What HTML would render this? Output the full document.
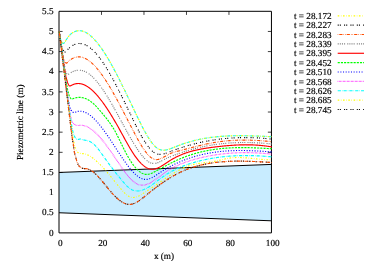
<!DOCTYPE html>
<html><head><meta charset="utf-8"><title>plot</title>
<style>html,body{margin:0;padding:0;background:#fff;}body{width:375px;height:263px;overflow:hidden;position:relative;font-family:"Liberation Serif",serif;}</style></head>
<body>
<svg width="375" height="263" viewBox="0 0 375 263" style="position:absolute;left:0;top:0">
<defs><clipPath id="cp"><rect x="58.0" y="11.3" width="214.45" height="221.6"/></clipPath></defs>
<rect width="375" height="263" fill="#fff"/>
<polygon points="59.00,172.46 271.45,164.41 271.45,220.81 59.00,212.75" fill="#c8ecff"/>
<path d="M59.0,11.3 H271.45 V232.9 H59.0 Z" stroke="#000" stroke-width="1.0" fill="none"/>
<path d="M59.0,172.46 h3.6 M59.0,152.32 h3.6 M271.45,152.32 h-3.6 M59.0,132.17 h3.6 M271.45,132.17 h-3.6 M59.0,112.03 h3.6 M271.45,112.03 h-3.6 M59.0,91.88 h3.6 M271.45,91.88 h-3.6 M59.0,71.74 h3.6 M271.45,71.74 h-3.6 M59.0,51.59 h3.6 M271.45,51.59 h-3.6 M59.0,31.45 h3.6 M271.45,31.45 h-3.6 M101.49,11.3 v3.6 M143.98,11.3 v3.6 M186.47,11.3 v3.6 M228.96,11.3 v3.6" stroke="#000" stroke-width="0.75" fill="none"/>
<path d="M59.00,172.46 L271.45,164.41 M59.00,212.75 L271.45,220.81" stroke="#000" stroke-width="1.0" fill="none"/>
<g clip-path="url(#cp)">
<path d="M59.20,31.58 L59.36,32.89 L59.53,34.14 L59.69,35.30 L59.86,36.37 L60.02,37.30 L60.19,38.09 L60.35,38.73 L60.51,39.32 L60.68,39.85 L60.84,40.34 L61.01,40.78 L61.17,41.17 L61.33,41.50 L61.50,41.77 L61.66,41.99 L61.83,42.21 L61.99,42.42 L62.16,42.62 L62.32,42.81 L62.48,42.98 L62.65,43.12 L62.81,43.24 L62.98,43.34 L63.14,43.40 L63.30,43.43 L63.47,43.41 L63.63,43.34 L63.80,43.23 L63.96,43.08 L64.13,42.89 L64.29,42.69 L64.45,42.47 L64.62,42.25 L64.78,42.03 L64.95,41.82 L65.11,41.60 L65.27,41.37 L65.44,41.11 L65.60,40.85 L65.77,40.57 L65.93,40.29 L66.10,40.01 L66.26,39.74 L66.42,39.47 L66.59,39.21 L66.75,38.97 L66.92,38.73 L67.08,38.49 L67.24,38.25 L67.41,38.02 L67.57,37.79 L67.74,37.56 L67.90,37.33 L68.07,37.11 L68.23,36.89 L68.39,36.67 L68.56,36.46 L68.72,36.26 L68.89,36.05 L69.05,35.85 L69.21,35.66 L69.38,35.46 L69.54,35.27 L69.71,35.09 L69.87,34.91 L70.04,34.74 L70.20,34.57 L70.36,34.42 L70.53,34.28 L70.69,34.14 L70.86,34.00 L71.02,33.87 L71.18,33.75 L71.35,33.62 L71.51,33.50 L71.68,33.38 L71.84,33.26 L72.01,33.14 L72.17,33.03 L72.33,32.92 L72.50,32.81 L72.66,32.71 L72.83,32.60 L72.99,32.50 L73.15,32.41 L73.32,32.31 L73.48,32.22 L73.65,32.14 L73.81,32.05 L73.98,31.97 L74.14,31.89 L74.30,31.81 L74.47,31.73 L74.63,31.66 L74.80,31.59 L74.96,31.53 L75.12,31.46 L75.29,31.40 L75.45,31.34 L75.62,31.29 L75.78,31.23 L75.95,31.18 L76.11,31.13 L76.27,31.09 L76.44,31.04 L76.60,31.00 L76.77,30.96 L76.93,30.93 L77.09,30.89 L77.26,30.86 L77.42,30.83 L77.59,30.81 L77.75,30.79 L77.92,30.77 L78.08,30.75 L78.24,30.73 L78.41,30.71 L78.57,30.70 L78.74,30.70 L78.90,30.70 L79.06,30.70 L79.23,30.70 L79.39,30.70 L79.56,30.70 L79.72,30.70 L79.89,30.70 L80.05,30.71 L80.21,30.72 L80.38,30.74 L80.54,30.76 L80.71,30.78 L80.87,30.80 L81.03,30.82 L81.20,30.85 L81.36,30.88 L81.53,30.91 L81.69,30.94 L81.86,30.98 L82.02,31.02 L82.18,31.05 L82.35,31.10 L82.51,31.14 L82.68,31.19 L82.84,31.24 L83.00,31.29 L83.17,31.34 L83.33,31.39 L83.50,31.45 L83.66,31.51 L83.83,31.57 L83.99,31.64 L84.15,31.70 L84.32,31.77 L84.48,31.84 L84.65,31.91 L84.81,31.98 L84.97,32.06 L85.14,32.14 L85.30,32.22 L85.47,32.30 L85.63,32.38 L85.80,32.47 L85.96,32.56 L86.12,32.65 L86.29,32.74 L86.45,32.83 L86.62,32.93 L86.78,33.02 L86.94,33.12 L87.11,33.22 L87.27,33.33 L87.44,33.43 L87.60,33.54 L87.77,33.65 L87.93,33.76 L88.09,33.87 L88.26,33.99 L88.42,34.10 L88.59,34.22 L88.75,34.34 L88.91,34.46 L89.08,34.59 L89.24,34.71 L89.41,34.84 L89.57,34.97 L89.74,35.10 L89.90,35.23 L90.06,35.36 L90.23,35.50 L90.39,35.64 L90.56,35.78 L90.72,35.92 L90.88,36.06 L91.05,36.20 L91.21,36.35 L91.38,36.50 L91.54,36.65 L91.71,36.80 L91.87,36.95 L92.03,37.10 L92.20,37.26 L92.36,37.42 L92.53,37.58 L92.69,37.74 L92.85,37.90 L93.02,38.06 L93.18,38.23 L93.35,38.40 L93.51,38.56 L93.68,38.74 L93.84,38.91 L94.00,39.08 L94.17,39.25 L94.33,39.43 L94.50,39.61 L94.66,39.78 L94.82,39.96 L94.99,40.14 L95.15,40.33 L95.32,40.51 L95.48,40.69 L95.65,40.88 L95.81,41.07 L95.97,41.26 L96.14,41.45 L96.30,41.64 L96.47,41.84 L96.63,42.04 L96.79,42.23 L96.96,42.43 L97.12,42.63 L97.29,42.83 L97.45,43.03 L97.62,43.24 L97.78,43.44 L97.94,43.65 L98.11,43.86 L98.27,44.06 L98.44,44.27 L98.60,44.49 L98.76,44.70 L98.93,44.91 L99.09,45.13 L99.26,45.35 L99.42,45.56 L99.59,45.78 L99.75,46.00 L99.91,46.23 L100.08,46.45 L100.24,46.67 L100.41,46.90 L100.57,47.12 L100.73,47.35 L100.90,47.58 L101.06,47.81 L101.23,48.04 L101.39,48.28 L101.56,48.51 L101.72,48.75 L102.29,49.57 L102.86,50.41 L103.43,51.26 L104.00,52.12 L104.56,53.00 L105.13,53.89 L105.70,54.80 L106.27,55.71 L106.84,56.64 L107.41,57.58 L107.98,58.53 L108.55,59.49 L109.11,60.46 L109.68,61.45 L110.25,62.44 L110.82,63.44 L111.39,64.46 L111.96,65.48 L112.53,66.51 L113.10,67.55 L113.67,68.61 L114.23,69.66 L114.80,70.73 L115.37,71.81 L115.94,72.89 L116.51,73.98 L117.08,75.08 L117.65,76.19 L118.22,77.30 L118.78,78.42 L119.35,79.54 L119.92,80.67 L120.49,81.81 L121.06,82.95 L121.63,84.09 L122.20,85.25 L122.77,86.40 L123.34,87.56 L123.90,88.73 L124.47,89.89 L125.04,91.07 L125.61,92.24 L126.18,93.42 L126.75,94.60 L127.32,95.78 L127.89,96.97 L128.45,98.15 L129.02,99.34 L129.59,100.53 L130.16,101.72 L130.73,102.92 L131.30,104.11 L131.87,105.30 L132.44,106.50 L133.01,107.69 L133.57,108.88 L134.14,110.07 L134.71,111.27 L135.28,112.46 L135.85,113.64 L136.42,114.83 L136.99,116.02 L137.56,117.20 L138.13,118.37 L138.69,119.54 L139.26,120.71 L139.83,121.86 L140.40,123.01 L140.97,124.15 L141.54,125.28 L142.11,126.40 L142.68,127.50 L143.24,128.59 L143.81,129.66 L144.38,130.72 L144.95,131.76 L145.52,132.79 L146.09,133.79 L146.66,134.78 L147.23,135.74 L147.80,136.69 L148.36,137.60 L148.93,138.50 L149.50,139.37 L150.07,140.21 L150.64,141.03 L151.21,141.81 L151.78,142.58 L152.35,143.31 L152.91,144.00 L153.48,144.66 L154.05,145.30 L154.62,145.90 L155.19,146.45 L155.76,146.98 L156.33,147.47 L156.90,147.91 L157.47,148.32 L158.03,148.69 L158.60,149.02 L159.17,149.30 L159.74,149.53 L160.31,149.75 L160.88,149.91 L161.45,150.02 L162.02,150.10 L162.58,150.16 L163.15,150.20 L163.72,150.20 L164.29,150.16 L164.86,150.10 L165.43,150.04 L166.00,149.95 L166.57,149.83 L167.14,149.69 L167.70,149.54 L168.27,149.38 L168.84,149.21 L169.41,149.02 L169.98,148.84 L170.55,148.64 L171.12,148.44 L171.69,148.23 L172.25,148.02 L172.82,147.80 L173.39,147.58 L173.96,147.36 L174.53,147.13 L175.10,146.91 L175.67,146.68 L176.24,146.46 L176.81,146.23 L177.37,146.01 L177.94,145.78 L178.51,145.56 L179.08,145.35 L179.65,145.13 L180.22,144.92 L180.79,144.71 L181.36,144.51 L181.92,144.30 L182.49,144.10 L183.06,143.91 L183.63,143.71 L184.20,143.52 L184.77,143.33 L185.34,143.15 L185.91,142.97 L186.48,142.79 L187.04,142.61 L187.61,142.44 L188.18,142.27 L188.75,142.10 L189.32,141.93 L189.89,141.77 L190.46,141.61 L191.03,141.45 L191.60,141.29 L192.16,141.14 L192.73,140.99 L193.30,140.84 L193.87,140.70 L194.44,140.56 L195.01,140.42 L195.58,140.28 L196.15,140.14 L196.71,140.01 L197.28,139.88 L197.85,139.75 L198.42,139.63 L198.99,139.50 L199.56,139.38 L200.13,139.26 L200.70,139.15 L201.27,139.04 L201.83,138.92 L202.40,138.81 L202.97,138.71 L203.54,138.60 L204.11,138.50 L204.68,138.40 L205.25,138.30 L205.82,138.21 L206.38,138.11 L206.95,138.02 L207.52,137.93 L208.09,137.84 L208.66,137.76 L209.23,137.68 L209.80,137.59 L210.37,137.51 L210.94,137.44 L211.50,137.36 L212.07,137.29 L212.64,137.22 L213.21,137.15 L213.78,137.08 L214.35,137.01 L214.92,136.95 L215.49,136.89 L216.05,136.83 L216.62,136.77 L217.19,136.71 L217.76,136.66 L218.33,136.60 L218.90,136.55 L219.47,136.50 L220.04,136.45 L220.61,136.41 L221.17,136.36 L221.74,136.32 L222.31,136.28 L222.88,136.24 L223.45,136.20 L224.02,136.16 L224.59,136.13 L225.16,136.09 L225.72,136.06 L226.29,136.03 L226.86,136.00 L227.43,135.97 L228.00,135.95 L228.57,135.92 L229.14,135.90 L229.71,135.87 L230.28,135.85 L230.84,135.83 L231.41,135.82 L231.98,135.80 L232.55,135.78 L233.12,135.77 L233.69,135.75 L234.26,135.74 L234.83,135.73 L235.39,135.72 L235.96,135.71 L236.53,135.71 L237.10,135.70 L237.67,135.69 L238.24,135.69 L238.81,135.69 L239.38,135.69 L239.95,135.68 L240.51,135.69 L241.08,135.69 L241.65,135.69 L242.22,135.69 L242.79,135.69 L243.36,135.70 L243.93,135.71 L244.50,135.71 L245.07,135.72 L245.63,135.73 L246.20,135.74 L246.77,135.75 L247.34,135.76 L247.91,135.77 L248.48,135.78 L249.05,135.80 L249.62,135.81 L250.18,135.82 L250.75,135.84 L251.32,135.85 L251.89,135.87 L252.46,135.89 L253.03,135.91 L253.60,135.92 L254.17,135.94 L254.74,135.96 L255.30,135.98 L255.87,136.00 L256.44,136.02 L257.01,136.04 L257.58,136.07 L258.15,136.09 L258.72,136.11 L259.29,136.13 L259.85,136.16 L260.42,136.18 L260.99,136.21 L261.56,136.23 L262.13,136.25 L262.70,136.28 L263.27,136.31 L263.84,136.33 L264.41,136.36 L264.97,136.38 L265.54,136.41 L266.11,136.44 L266.68,136.46 L267.25,136.49 L267.82,136.52 L268.39,136.54 L268.96,136.57 L269.52,136.60 L270.09,136.62 L270.66,136.65 L271.23,136.68 L271.80,136.70" fill="none" stroke="#00ffff" stroke-width="1.15" stroke-dasharray="3.18,1.06,0.53,1.06"/>
<path d="M59.20,31.58 L59.36,32.89 L59.53,34.14 L59.69,35.30 L59.86,36.37 L60.02,37.30 L60.19,38.09 L60.35,38.73 L60.51,39.32 L60.68,39.85 L60.84,40.34 L61.01,40.78 L61.17,41.17 L61.33,41.50 L61.50,41.77 L61.66,41.99 L61.83,42.21 L61.99,42.42 L62.16,42.62 L62.32,42.81 L62.48,42.98 L62.65,43.12 L62.81,43.24 L62.98,43.34 L63.14,43.40 L63.30,43.43 L63.47,43.41 L63.63,43.34 L63.80,43.23 L63.96,43.08 L64.13,42.89 L64.29,42.69 L64.45,42.47 L64.62,42.25 L64.78,42.03 L64.95,41.82 L65.11,41.60 L65.27,41.37 L65.44,41.11 L65.60,40.85 L65.77,40.57 L65.93,40.29 L66.10,40.01 L66.26,39.74 L66.42,39.47 L66.59,39.21 L66.75,38.97 L66.92,38.73 L67.08,38.49 L67.24,38.25 L67.41,38.02 L67.57,37.79 L67.74,37.56 L67.90,37.33 L68.07,37.11 L68.23,36.89 L68.39,36.67 L68.56,36.46 L68.72,36.26 L68.89,36.05 L69.05,35.85 L69.21,35.66 L69.38,35.46 L69.54,35.27 L69.71,35.09 L69.87,34.91 L70.04,34.74 L70.20,34.57 L70.36,34.42 L70.53,34.28 L70.69,34.14 L70.86,34.00 L71.02,33.87 L71.18,33.75 L71.35,33.62 L71.51,33.50 L71.68,33.38 L71.84,33.26 L72.01,33.14 L72.17,33.03 L72.33,32.92 L72.50,32.81 L72.66,32.71 L72.83,32.60 L72.99,32.50 L73.15,32.41 L73.32,32.31 L73.48,32.22 L73.65,32.14 L73.81,32.05 L73.98,31.97 L74.14,31.89 L74.30,31.81 L74.47,31.73 L74.63,31.66 L74.80,31.59 L74.96,31.53 L75.12,31.46 L75.29,31.40 L75.45,31.34 L75.62,31.29 L75.78,31.23 L75.95,31.18 L76.11,31.13 L76.27,31.09 L76.44,31.04 L76.60,31.00 L76.77,30.96 L76.93,30.93 L77.09,30.89 L77.26,30.86 L77.42,30.83 L77.59,30.81 L77.75,30.79 L77.92,30.77 L78.08,30.75 L78.24,30.73 L78.41,30.71 L78.57,30.70 L78.74,30.70 L78.90,30.70 L79.06,30.70 L79.23,30.70 L79.39,30.70 L79.56,30.70 L79.72,30.70 L79.89,30.70 L80.05,30.71 L80.21,30.72 L80.38,30.74 L80.54,30.76 L80.71,30.78 L80.87,30.80 L81.03,30.82 L81.20,30.85 L81.36,30.88 L81.53,30.91 L81.69,30.94 L81.86,30.98 L82.02,31.02 L82.18,31.05 L82.35,31.10 L82.51,31.14 L82.68,31.19 L82.84,31.24 L83.00,31.29 L83.17,31.34 L83.33,31.39 L83.50,31.45 L83.66,31.51 L83.83,31.57 L83.99,31.64 L84.15,31.70 L84.32,31.77 L84.48,31.84 L84.65,31.91 L84.81,31.98 L84.97,32.06 L85.14,32.14 L85.30,32.22 L85.47,32.30 L85.63,32.38 L85.80,32.47 L85.96,32.56 L86.12,32.65 L86.29,32.74 L86.45,32.83 L86.62,32.93 L86.78,33.02 L86.94,33.12 L87.11,33.22 L87.27,33.33 L87.44,33.43 L87.60,33.54 L87.77,33.65 L87.93,33.76 L88.09,33.87 L88.26,33.99 L88.42,34.10 L88.59,34.22 L88.75,34.34 L88.91,34.46 L89.08,34.59 L89.24,34.71 L89.41,34.84 L89.57,34.97 L89.74,35.10 L89.90,35.23 L90.06,35.36 L90.23,35.50 L90.39,35.64 L90.56,35.78 L90.72,35.92 L90.88,36.06 L91.05,36.20 L91.21,36.35 L91.38,36.50 L91.54,36.65 L91.71,36.80 L91.87,36.95 L92.03,37.10 L92.20,37.26 L92.36,37.42 L92.53,37.58 L92.69,37.74 L92.85,37.90 L93.02,38.06 L93.18,38.23 L93.35,38.40 L93.51,38.56 L93.68,38.74 L93.84,38.91 L94.00,39.08 L94.17,39.25 L94.33,39.43 L94.50,39.61 L94.66,39.78 L94.82,39.96 L94.99,40.14 L95.15,40.33 L95.32,40.51 L95.48,40.69 L95.65,40.88 L95.81,41.07 L95.97,41.26 L96.14,41.45 L96.30,41.64 L96.47,41.84 L96.63,42.04 L96.79,42.23 L96.96,42.43 L97.12,42.63 L97.29,42.83 L97.45,43.03 L97.62,43.24 L97.78,43.44 L97.94,43.65 L98.11,43.86 L98.27,44.06 L98.44,44.27 L98.60,44.49 L98.76,44.70 L98.93,44.91 L99.09,45.13 L99.26,45.35 L99.42,45.56 L99.59,45.78 L99.75,46.00 L99.91,46.23 L100.08,46.45 L100.24,46.67 L100.41,46.90 L100.57,47.12 L100.73,47.35 L100.90,47.58 L101.06,47.81 L101.23,48.04 L101.39,48.28 L101.56,48.51 L101.72,48.75 L102.29,49.57 L102.86,50.41 L103.43,51.26 L104.00,52.12 L104.56,53.00 L105.13,53.89 L105.70,54.80 L106.27,55.71 L106.84,56.64 L107.41,57.58 L107.98,58.53 L108.55,59.49 L109.11,60.46 L109.68,61.45 L110.25,62.44 L110.82,63.44 L111.39,64.46 L111.96,65.48 L112.53,66.51 L113.10,67.55 L113.67,68.61 L114.23,69.66 L114.80,70.73 L115.37,71.81 L115.94,72.89 L116.51,73.98 L117.08,75.08 L117.65,76.19 L118.22,77.30 L118.78,78.42 L119.35,79.54 L119.92,80.67 L120.49,81.81 L121.06,82.95 L121.63,84.09 L122.20,85.25 L122.77,86.40 L123.34,87.56 L123.90,88.73 L124.47,89.89 L125.04,91.07 L125.61,92.24 L126.18,93.42 L126.75,94.60 L127.32,95.78 L127.89,96.97 L128.45,98.15 L129.02,99.34 L129.59,100.53 L130.16,101.72 L130.73,102.92 L131.30,104.11 L131.87,105.30 L132.44,106.50 L133.01,107.69 L133.57,108.88 L134.14,110.07 L134.71,111.27 L135.28,112.46 L135.85,113.64 L136.42,114.83 L136.99,116.02 L137.56,117.20 L138.13,118.37 L138.69,119.54 L139.26,120.71 L139.83,121.86 L140.40,123.01 L140.97,124.15 L141.54,125.28 L142.11,126.40 L142.68,127.50 L143.24,128.59 L143.81,129.66 L144.38,130.72 L144.95,131.76 L145.52,132.79 L146.09,133.79 L146.66,134.78 L147.23,135.74 L147.80,136.69 L148.36,137.60 L148.93,138.50 L149.50,139.37 L150.07,140.21 L150.64,141.03 L151.21,141.81 L151.78,142.58 L152.35,143.31 L152.91,144.00 L153.48,144.66 L154.05,145.30 L154.62,145.90 L155.19,146.45 L155.76,146.98 L156.33,147.47 L156.90,147.91 L157.47,148.32 L158.03,148.69 L158.60,149.02 L159.17,149.30 L159.74,149.53 L160.31,149.75 L160.88,149.91 L161.45,150.02 L162.02,150.10 L162.58,150.16 L163.15,150.20 L163.72,150.20 L164.29,150.16 L164.86,150.10 L165.43,150.04 L166.00,149.95 L166.57,149.83 L167.14,149.69 L167.70,149.54 L168.27,149.38 L168.84,149.21 L169.41,149.02 L169.98,148.84 L170.55,148.64 L171.12,148.44 L171.69,148.23 L172.25,148.02 L172.82,147.80 L173.39,147.58 L173.96,147.36 L174.53,147.13 L175.10,146.91 L175.67,146.68 L176.24,146.46 L176.81,146.23 L177.37,146.01 L177.94,145.78 L178.51,145.56 L179.08,145.35 L179.65,145.13 L180.22,144.92 L180.79,144.71 L181.36,144.51 L181.92,144.30 L182.49,144.10 L183.06,143.91 L183.63,143.71 L184.20,143.52 L184.77,143.33 L185.34,143.15 L185.91,142.97 L186.48,142.79 L187.04,142.61 L187.61,142.44 L188.18,142.27 L188.75,142.10 L189.32,141.93 L189.89,141.77 L190.46,141.61 L191.03,141.45 L191.60,141.29 L192.16,141.14 L192.73,140.99 L193.30,140.84 L193.87,140.70 L194.44,140.56 L195.01,140.42 L195.58,140.28 L196.15,140.14 L196.71,140.01 L197.28,139.88 L197.85,139.75 L198.42,139.63 L198.99,139.50 L199.56,139.38 L200.13,139.26 L200.70,139.15 L201.27,139.04 L201.83,138.92 L202.40,138.81 L202.97,138.71 L203.54,138.60 L204.11,138.50 L204.68,138.40 L205.25,138.30 L205.82,138.21 L206.38,138.11 L206.95,138.02 L207.52,137.93 L208.09,137.84 L208.66,137.76 L209.23,137.68 L209.80,137.59 L210.37,137.51 L210.94,137.44 L211.50,137.36 L212.07,137.29 L212.64,137.22 L213.21,137.15 L213.78,137.08 L214.35,137.01 L214.92,136.95 L215.49,136.89 L216.05,136.83 L216.62,136.77 L217.19,136.71 L217.76,136.66 L218.33,136.60 L218.90,136.55 L219.47,136.50 L220.04,136.45 L220.61,136.41 L221.17,136.36 L221.74,136.32 L222.31,136.28 L222.88,136.24 L223.45,136.20 L224.02,136.16 L224.59,136.13 L225.16,136.09 L225.72,136.06 L226.29,136.03 L226.86,136.00 L227.43,135.97 L228.00,135.95 L228.57,135.92 L229.14,135.90 L229.71,135.87 L230.28,135.85 L230.84,135.83 L231.41,135.82 L231.98,135.80 L232.55,135.78 L233.12,135.77 L233.69,135.75 L234.26,135.74 L234.83,135.73 L235.39,135.72 L235.96,135.71 L236.53,135.71 L237.10,135.70 L237.67,135.69 L238.24,135.69 L238.81,135.69 L239.38,135.69 L239.95,135.68 L240.51,135.69 L241.08,135.69 L241.65,135.69 L242.22,135.69 L242.79,135.69 L243.36,135.70 L243.93,135.71 L244.50,135.71 L245.07,135.72 L245.63,135.73 L246.20,135.74 L246.77,135.75 L247.34,135.76 L247.91,135.77 L248.48,135.78 L249.05,135.80 L249.62,135.81 L250.18,135.82 L250.75,135.84 L251.32,135.85 L251.89,135.87 L252.46,135.89 L253.03,135.91 L253.60,135.92 L254.17,135.94 L254.74,135.96 L255.30,135.98 L255.87,136.00 L256.44,136.02 L257.01,136.04 L257.58,136.07 L258.15,136.09 L258.72,136.11 L259.29,136.13 L259.85,136.16 L260.42,136.18 L260.99,136.21 L261.56,136.23 L262.13,136.25 L262.70,136.28 L263.27,136.31 L263.84,136.33 L264.41,136.36 L264.97,136.38 L265.54,136.41 L266.11,136.44 L266.68,136.46 L267.25,136.49 L267.82,136.52 L268.39,136.54 L268.96,136.57 L269.52,136.60 L270.09,136.62 L270.66,136.65 L271.23,136.68 L271.80,136.70" fill="none" stroke="#ffff00" stroke-width="1.15" stroke-dasharray="1.59,1.59,0.53,1.59"/>
<path d="M59.20,31.58 L59.36,33.00 L59.53,34.37 L59.69,35.67 L59.86,36.92 L60.02,38.11 L60.19,39.23 L60.35,40.29 L60.51,41.28 L60.68,42.21 L60.84,43.07 L61.01,43.89 L61.17,44.66 L61.33,45.37 L61.50,46.01 L61.66,46.58 L61.83,47.05 L61.99,47.49 L62.16,47.88 L62.32,48.24 L62.48,48.58 L62.65,48.90 L62.81,49.20 L62.98,49.48 L63.14,49.76 L63.30,50.04 L63.47,50.32 L63.63,50.59 L63.80,50.86 L63.96,51.10 L64.13,51.32 L64.29,51.50 L64.45,51.64 L64.62,51.74 L64.78,51.83 L64.95,51.92 L65.11,51.99 L65.27,52.04 L65.44,52.06 L65.60,52.05 L65.77,51.99 L65.93,51.88 L66.10,51.74 L66.26,51.56 L66.42,51.35 L66.59,51.13 L66.75,50.89 L66.92,50.64 L67.08,50.40 L67.24,50.16 L67.41,49.93 L67.57,49.72 L67.74,49.54 L67.90,49.36 L68.07,49.19 L68.23,49.03 L68.39,48.86 L68.56,48.70 L68.72,48.54 L68.89,48.38 L69.05,48.22 L69.21,48.07 L69.38,47.92 L69.54,47.77 L69.71,47.63 L69.87,47.49 L70.04,47.35 L70.20,47.21 L70.36,47.08 L70.53,46.95 L70.69,46.82 L70.86,46.69 L71.02,46.57 L71.18,46.45 L71.35,46.33 L71.51,46.21 L71.68,46.10 L71.84,45.99 L72.01,45.88 L72.17,45.78 L72.33,45.67 L72.50,45.57 L72.66,45.47 L72.83,45.38 L72.99,45.28 L73.15,45.19 L73.32,45.10 L73.48,45.02 L73.65,44.93 L73.81,44.85 L73.98,44.77 L74.14,44.70 L74.30,44.63 L74.47,44.55 L74.63,44.48 L74.80,44.42 L74.96,44.35 L75.12,44.29 L75.29,44.23 L75.45,44.18 L75.62,44.12 L75.78,44.07 L75.95,44.02 L76.11,43.97 L76.27,43.93 L76.44,43.88 L76.60,43.84 L76.77,43.80 L76.93,43.77 L77.09,43.73 L77.26,43.70 L77.42,43.68 L77.59,43.65 L77.75,43.62 L77.92,43.60 L78.08,43.58 L78.24,43.56 L78.41,43.55 L78.57,43.54 L78.74,43.53 L78.90,43.52 L79.06,43.51 L79.23,43.50 L79.39,43.50 L79.56,43.50 L79.72,43.51 L79.89,43.51 L80.05,43.52 L80.21,43.53 L80.38,43.54 L80.54,43.55 L80.71,43.56 L80.87,43.58 L81.03,43.60 L81.20,43.62 L81.36,43.65 L81.53,43.67 L81.69,43.70 L81.86,43.73 L82.02,43.76 L82.18,43.80 L82.35,43.84 L82.51,43.87 L82.68,43.91 L82.84,43.96 L83.00,44.00 L83.17,44.05 L83.33,44.10 L83.50,44.15 L83.66,44.20 L83.83,44.26 L83.99,44.31 L84.15,44.37 L84.32,44.43 L84.48,44.50 L84.65,44.56 L84.81,44.63 L84.97,44.70 L85.14,44.77 L85.30,44.84 L85.47,44.92 L85.63,44.99 L85.80,45.07 L85.96,45.15 L86.12,45.23 L86.29,45.32 L86.45,45.40 L86.62,45.49 L86.78,45.58 L86.94,45.67 L87.11,45.77 L87.27,45.86 L87.44,45.96 L87.60,46.06 L87.77,46.16 L87.93,46.27 L88.09,46.37 L88.26,46.48 L88.42,46.59 L88.59,46.70 L88.75,46.81 L88.91,46.92 L89.08,47.04 L89.24,47.16 L89.41,47.28 L89.57,47.40 L89.74,47.52 L89.90,47.65 L90.06,47.77 L90.23,47.90 L90.39,48.03 L90.56,48.16 L90.72,48.30 L90.88,48.43 L91.05,48.57 L91.21,48.71 L91.38,48.85 L91.54,48.99 L91.71,49.13 L91.87,49.28 L92.03,49.42 L92.20,49.57 L92.36,49.72 L92.53,49.87 L92.69,50.03 L92.85,50.18 L93.02,50.34 L93.18,50.50 L93.35,50.66 L93.51,50.82 L93.68,50.99 L93.84,51.15 L94.00,51.32 L94.17,51.49 L94.33,51.66 L94.50,51.83 L94.66,52.00 L94.82,52.17 L94.99,52.35 L95.15,52.52 L95.32,52.70 L95.48,52.88 L95.65,53.06 L95.81,53.25 L95.97,53.43 L96.14,53.62 L96.30,53.81 L96.47,54.00 L96.63,54.19 L96.79,54.38 L96.96,54.57 L97.12,54.77 L97.29,54.96 L97.45,55.16 L97.62,55.36 L97.78,55.56 L97.94,55.76 L98.11,55.97 L98.27,56.17 L98.44,56.38 L98.60,56.59 L98.76,56.80 L98.93,57.01 L99.09,57.22 L99.26,57.43 L99.42,57.65 L99.59,57.86 L99.75,58.08 L99.91,58.30 L100.08,58.52 L100.24,58.74 L100.41,58.96 L100.57,59.19 L100.73,59.41 L100.90,59.64 L101.06,59.87 L101.23,60.09 L101.39,60.32 L101.56,60.56 L101.72,60.79 L102.29,61.60 L102.86,62.43 L103.43,63.28 L104.00,64.14 L104.56,65.01 L105.13,65.90 L105.70,66.79 L106.27,67.71 L106.84,68.63 L107.41,69.57 L107.98,70.51 L108.55,71.47 L109.11,72.45 L109.68,73.43 L110.25,74.42 L110.82,75.42 L111.39,76.44 L111.96,77.46 L112.53,78.49 L113.10,79.54 L113.67,80.59 L114.23,81.65 L114.80,82.71 L115.37,83.79 L115.94,84.88 L116.51,85.97 L117.08,87.07 L117.65,88.17 L118.22,89.28 L118.78,90.40 L119.35,91.53 L119.92,92.66 L120.49,93.79 L121.06,94.93 L121.63,96.08 L122.20,97.23 L122.77,98.38 L123.34,99.54 L123.90,100.70 L124.47,101.87 L125.04,103.03 L125.61,104.21 L126.18,105.38 L126.75,106.55 L127.32,107.73 L127.89,108.91 L128.45,110.09 L129.02,111.27 L129.59,112.45 L130.16,113.64 L130.73,114.82 L131.30,116.00 L131.87,117.18 L132.44,118.36 L133.01,119.54 L133.57,120.71 L134.14,121.87 L134.71,123.04 L135.28,124.19 L135.85,125.34 L136.42,126.48 L136.99,127.61 L137.56,128.73 L138.13,129.83 L138.69,130.93 L139.26,132.01 L139.83,133.08 L140.40,134.13 L140.97,135.17 L141.54,136.19 L142.11,137.19 L142.68,138.18 L143.24,139.14 L143.81,140.09 L144.38,141.00 L144.95,141.90 L145.52,142.78 L146.09,143.63 L146.66,144.45 L147.23,145.26 L147.80,146.03 L148.36,146.77 L148.93,147.48 L149.50,148.17 L150.07,148.83 L150.64,149.45 L151.21,150.03 L151.78,150.59 L152.35,151.12 L152.91,151.59 L153.48,152.04 L154.05,152.46 L154.62,152.83 L155.19,153.16 L155.76,153.45 L156.33,153.71 L156.90,153.92 L157.47,154.08 L158.03,154.23 L158.60,154.34 L159.17,154.38 L159.74,154.38 L160.31,154.37 L160.88,154.36 L161.45,154.35 L162.02,154.28 L162.58,154.17 L163.15,154.04 L163.72,153.91 L164.29,153.75 L164.86,153.57 L165.43,153.39 L166.00,153.20 L166.57,152.99 L167.14,152.77 L167.70,152.56 L168.27,152.34 L168.84,152.11 L169.41,151.89 L169.98,151.67 L170.55,151.45 L171.12,151.23 L171.69,151.01 L172.25,150.80 L172.82,150.59 L173.39,150.38 L173.96,150.17 L174.53,149.96 L175.10,149.76 L175.67,149.56 L176.24,149.36 L176.81,149.16 L177.37,148.96 L177.94,148.77 L178.51,148.58 L179.08,148.39 L179.65,148.20 L180.22,148.01 L180.79,147.83 L181.36,147.64 L181.92,147.46 L182.49,147.28 L183.06,147.10 L183.63,146.92 L184.20,146.75 L184.77,146.57 L185.34,146.40 L185.91,146.23 L186.48,146.06 L187.04,145.90 L187.61,145.73 L188.18,145.57 L188.75,145.41 L189.32,145.25 L189.89,145.09 L190.46,144.93 L191.03,144.78 L191.60,144.63 L192.16,144.48 L192.73,144.33 L193.30,144.18 L193.87,144.03 L194.44,143.89 L195.01,143.75 L195.58,143.60 L196.15,143.46 L196.71,143.33 L197.28,143.19 L197.85,143.06 L198.42,142.92 L198.99,142.79 L199.56,142.66 L200.13,142.54 L200.70,142.41 L201.27,142.29 L201.83,142.16 L202.40,142.04 L202.97,141.92 L203.54,141.80 L204.11,141.69 L204.68,141.57 L205.25,141.46 L205.82,141.35 L206.38,141.24 L206.95,141.13 L207.52,141.03 L208.09,140.92 L208.66,140.82 L209.23,140.72 L209.80,140.62 L210.37,140.52 L210.94,140.42 L211.50,140.33 L212.07,140.24 L212.64,140.15 L213.21,140.06 L213.78,139.97 L214.35,139.88 L214.92,139.80 L215.49,139.71 L216.05,139.63 L216.62,139.55 L217.19,139.47 L217.76,139.40 L218.33,139.32 L218.90,139.25 L219.47,139.17 L220.04,139.10 L220.61,139.04 L221.17,138.97 L221.74,138.90 L222.31,138.84 L222.88,138.78 L223.45,138.72 L224.02,138.66 L224.59,138.60 L225.16,138.54 L225.72,138.49 L226.29,138.44 L226.86,138.38 L227.43,138.33 L228.00,138.29 L228.57,138.24 L229.14,138.19 L229.71,138.15 L230.28,138.11 L230.84,138.07 L231.41,138.03 L231.98,137.99 L232.55,137.96 L233.12,137.92 L233.69,137.89 L234.26,137.86 L234.83,137.83 L235.39,137.80 L235.96,137.78 L236.53,137.75 L237.10,137.73 L237.67,137.71 L238.24,137.69 L238.81,137.67 L239.38,137.65 L239.95,137.64 L240.51,137.62 L241.08,137.61 L241.65,137.60 L242.22,137.59 L242.79,137.58 L243.36,137.57 L243.93,137.57 L244.50,137.57 L245.07,137.57 L245.63,137.57 L246.20,137.57 L246.77,137.57 L247.34,137.57 L247.91,137.58 L248.48,137.59 L249.05,137.59 L249.62,137.61 L250.18,137.62 L250.75,137.63 L251.32,137.65 L251.89,137.66 L252.46,137.68 L253.03,137.70 L253.60,137.72 L254.17,137.74 L254.74,137.77 L255.30,137.79 L255.87,137.82 L256.44,137.85 L257.01,137.88 L257.58,137.91 L258.15,137.94 L258.72,137.97 L259.29,138.01 L259.85,138.05 L260.42,138.09 L260.99,138.13 L261.56,138.17 L262.13,138.21 L262.70,138.25 L263.27,138.30 L263.84,138.35 L264.41,138.40 L264.97,138.45 L265.54,138.50 L266.11,138.55 L266.68,138.61 L267.25,138.66 L267.82,138.72 L268.39,138.78 L268.96,138.84 L269.52,138.90 L270.09,138.96 L270.66,139.03 L271.23,139.10 L271.80,139.16" fill="none" stroke="#000000" stroke-width="1.15" stroke-dasharray="1.06,1.06,1.06,3.18"/>
<path d="M59.20,31.58 L59.36,32.66 L59.53,33.73 L59.69,34.78 L59.86,35.82 L60.02,36.84 L60.19,37.85 L60.35,38.82 L60.51,39.78 L60.68,40.72 L60.84,41.66 L61.01,42.62 L61.17,43.61 L61.33,44.62 L61.50,45.66 L61.66,46.72 L61.83,47.78 L61.99,48.85 L62.16,49.91 L62.32,50.96 L62.48,51.99 L62.65,53.00 L62.81,54.00 L62.98,55.00 L63.14,55.99 L63.30,57.00 L63.47,57.99 L63.63,58.65 L63.80,59.21 L63.96,59.71 L64.13,60.14 L64.29,60.51 L64.45,60.83 L64.62,61.11 L64.78,61.39 L64.95,61.66 L65.11,61.93 L65.27,62.17 L65.44,62.40 L65.60,62.60 L65.77,62.78 L65.93,62.92 L66.10,63.03 L66.26,63.09 L66.42,63.11 L66.59,63.09 L66.75,63.03 L66.92,62.94 L67.08,62.83 L67.24,62.69 L67.41,62.54 L67.57,62.37 L67.74,62.19 L67.90,62.01 L68.07,61.82 L68.23,61.64 L68.39,61.46 L68.56,61.30 L68.72,61.15 L68.89,61.01 L69.05,60.87 L69.21,60.73 L69.38,60.59 L69.54,60.46 L69.71,60.33 L69.87,60.20 L70.04,60.07 L70.20,59.95 L70.36,59.83 L70.53,59.71 L70.69,59.60 L70.86,59.48 L71.02,59.37 L71.18,59.27 L71.35,59.16 L71.51,59.06 L71.68,58.96 L71.84,58.86 L72.01,58.77 L72.17,58.67 L72.33,58.58 L72.50,58.49 L72.66,58.41 L72.83,58.32 L72.99,58.24 L73.15,58.17 L73.32,58.09 L73.48,58.02 L73.65,57.94 L73.81,57.87 L73.98,57.81 L74.14,57.74 L74.30,57.68 L74.47,57.62 L74.63,57.56 L74.80,57.51 L74.96,57.46 L75.12,57.41 L75.29,57.36 L75.45,57.31 L75.62,57.27 L75.78,57.23 L75.95,57.19 L76.11,57.15 L76.27,57.12 L76.44,57.09 L76.60,57.06 L76.77,57.03 L76.93,57.00 L77.09,56.98 L77.26,56.96 L77.42,56.94 L77.59,56.92 L77.75,56.91 L77.92,56.89 L78.08,56.88 L78.24,56.88 L78.41,56.88 L78.57,56.88 L78.74,56.88 L78.90,56.88 L79.06,56.88 L79.23,56.88 L79.39,56.89 L79.56,56.89 L79.72,56.90 L79.89,56.92 L80.05,56.93 L80.21,56.95 L80.38,56.97 L80.54,56.99 L80.71,57.02 L80.87,57.04 L81.03,57.07 L81.20,57.10 L81.36,57.13 L81.53,57.17 L81.69,57.20 L81.86,57.24 L82.02,57.28 L82.18,57.32 L82.35,57.37 L82.51,57.41 L82.68,57.46 L82.84,57.51 L83.00,57.56 L83.17,57.62 L83.33,57.67 L83.50,57.73 L83.66,57.79 L83.83,57.85 L83.99,57.92 L84.15,57.98 L84.32,58.05 L84.48,58.12 L84.65,58.19 L84.81,58.26 L84.97,58.34 L85.14,58.41 L85.30,58.49 L85.47,58.57 L85.63,58.66 L85.80,58.74 L85.96,58.83 L86.12,58.91 L86.29,59.00 L86.45,59.09 L86.62,59.19 L86.78,59.28 L86.94,59.38 L87.11,59.48 L87.27,59.58 L87.44,59.68 L87.60,59.78 L87.77,59.89 L87.93,60.00 L88.09,60.11 L88.26,60.22 L88.42,60.33 L88.59,60.44 L88.75,60.56 L88.91,60.68 L89.08,60.80 L89.24,60.92 L89.41,61.04 L89.57,61.17 L89.74,61.29 L89.90,61.42 L90.06,61.55 L90.23,61.68 L90.39,61.81 L90.56,61.95 L90.72,62.08 L90.88,62.22 L91.05,62.36 L91.21,62.50 L91.38,62.64 L91.54,62.79 L91.71,62.93 L91.87,63.08 L92.03,63.23 L92.20,63.38 L92.36,63.53 L92.53,63.68 L92.69,63.83 L92.85,63.99 L93.02,64.15 L93.18,64.31 L93.35,64.47 L93.51,64.63 L93.68,64.80 L93.84,64.96 L94.00,65.13 L94.17,65.30 L94.33,65.47 L94.50,65.64 L94.66,65.81 L94.82,65.98 L94.99,66.16 L95.15,66.34 L95.32,66.51 L95.48,66.69 L95.65,66.87 L95.81,67.06 L95.97,67.24 L96.14,67.42 L96.30,67.61 L96.47,67.80 L96.63,67.99 L96.79,68.18 L96.96,68.37 L97.12,68.57 L97.29,68.76 L97.45,68.96 L97.62,69.15 L97.78,69.35 L97.94,69.55 L98.11,69.75 L98.27,69.95 L98.44,70.16 L98.60,70.36 L98.76,70.57 L98.93,70.78 L99.09,70.99 L99.26,71.20 L99.42,71.41 L99.59,71.62 L99.75,71.83 L99.91,72.05 L100.08,72.26 L100.24,72.48 L100.41,72.70 L100.57,72.92 L100.73,73.14 L100.90,73.36 L101.06,73.59 L101.23,73.81 L101.39,74.04 L101.56,74.26 L101.72,74.49 L102.29,75.29 L102.86,76.10 L103.43,76.93 L104.00,77.76 L104.56,78.61 L105.13,79.47 L105.70,80.35 L106.27,81.23 L106.84,82.13 L107.41,83.03 L107.98,83.95 L108.55,84.88 L109.11,85.82 L109.68,86.77 L110.25,87.72 L110.82,88.69 L111.39,89.66 L111.96,90.65 L112.53,91.64 L113.10,92.64 L113.67,93.65 L114.23,94.66 L114.80,95.68 L115.37,96.71 L115.94,97.75 L116.51,98.79 L117.08,99.83 L117.65,100.89 L118.22,101.94 L118.78,103.01 L119.35,104.07 L119.92,105.15 L120.49,106.22 L121.06,107.30 L121.63,108.39 L122.20,109.47 L122.77,110.56 L123.34,111.65 L123.90,112.75 L124.47,113.84 L125.04,114.94 L125.61,116.04 L126.18,117.14 L126.75,118.24 L127.32,119.35 L127.89,120.45 L128.45,121.55 L129.02,122.65 L129.59,123.75 L130.16,124.85 L130.73,125.95 L131.30,127.05 L131.87,128.15 L132.44,129.24 L133.01,130.33 L133.57,131.42 L134.14,132.50 L134.71,133.59 L135.28,134.66 L135.85,135.73 L136.42,136.79 L136.99,137.84 L137.56,138.89 L138.13,139.92 L138.69,140.93 L139.26,141.94 L139.83,142.93 L140.40,143.90 L140.97,144.86 L141.54,145.79 L142.11,146.71 L142.68,147.60 L143.24,148.48 L143.81,149.33 L144.38,150.15 L144.95,150.95 L145.52,151.72 L146.09,152.46 L146.66,153.17 L147.23,153.86 L147.80,154.51 L148.36,155.13 L148.93,155.70 L149.50,156.25 L150.07,156.77 L150.64,157.23 L151.21,157.66 L151.78,158.06 L152.35,158.42 L152.91,158.71 L153.48,158.98 L154.05,159.22 L154.62,159.38 L155.19,159.46 L155.76,159.52 L156.33,159.56 L156.90,159.58 L157.47,159.55 L158.03,159.45 L158.60,159.32 L159.17,159.18 L159.74,159.00 L160.31,158.79 L160.88,158.55 L161.45,158.30 L162.02,158.03 L162.58,157.74 L163.15,157.43 L163.72,157.12 L164.29,156.80 L164.86,156.47 L165.43,156.14 L166.00,155.81 L166.57,155.47 L167.14,155.14 L167.70,154.83 L168.27,154.52 L168.84,154.22 L169.41,153.93 L169.98,153.66 L170.55,153.41 L171.12,153.17 L171.69,152.95 L172.25,152.74 L172.82,152.54 L173.39,152.35 L173.96,152.18 L174.53,152.01 L175.10,151.85 L175.67,151.69 L176.24,151.54 L176.81,151.39 L177.37,151.25 L177.94,151.11 L178.51,150.96 L179.08,150.82 L179.65,150.68 L180.22,150.53 L180.79,150.39 L181.36,150.25 L181.92,150.10 L182.49,149.95 L183.06,149.81 L183.63,149.66 L184.20,149.51 L184.77,149.37 L185.34,149.22 L185.91,149.07 L186.48,148.92 L187.04,148.78 L187.61,148.63 L188.18,148.48 L188.75,148.33 L189.32,148.19 L189.89,148.04 L190.46,147.89 L191.03,147.74 L191.60,147.60 L192.16,147.45 L192.73,147.31 L193.30,147.16 L193.87,147.02 L194.44,146.87 L195.01,146.73 L195.58,146.58 L196.15,146.44 L196.71,146.30 L197.28,146.16 L197.85,146.02 L198.42,145.88 L198.99,145.74 L199.56,145.60 L200.13,145.46 L200.70,145.33 L201.27,145.19 L201.83,145.06 L202.40,144.93 L202.97,144.80 L203.54,144.67 L204.11,144.54 L204.68,144.41 L205.25,144.28 L205.82,144.16 L206.38,144.04 L206.95,143.91 L207.52,143.79 L208.09,143.67 L208.66,143.56 L209.23,143.44 L209.80,143.33 L210.37,143.22 L210.94,143.11 L211.50,143.00 L212.07,142.89 L212.64,142.79 L213.21,142.69 L213.78,142.59 L214.35,142.49 L214.92,142.39 L215.49,142.30 L216.05,142.21 L216.62,142.12 L217.19,142.03 L217.76,141.94 L218.33,141.86 L218.90,141.78 L219.47,141.70 L220.04,141.62 L220.61,141.55 L221.17,141.48 L221.74,141.40 L222.31,141.34 L222.88,141.27 L223.45,141.20 L224.02,141.14 L224.59,141.08 L225.16,141.02 L225.72,140.96 L226.29,140.91 L226.86,140.85 L227.43,140.80 L228.00,140.75 L228.57,140.70 L229.14,140.66 L229.71,140.62 L230.28,140.57 L230.84,140.53 L231.41,140.49 L231.98,140.46 L232.55,140.42 L233.12,140.39 L233.69,140.36 L234.26,140.33 L234.83,140.30 L235.39,140.27 L235.96,140.25 L236.53,140.23 L237.10,140.20 L237.67,140.19 L238.24,140.17 L238.81,140.15 L239.38,140.14 L239.95,140.12 L240.51,140.11 L241.08,140.10 L241.65,140.10 L242.22,140.09 L242.79,140.09 L243.36,140.08 L243.93,140.08 L244.50,140.08 L245.07,140.08 L245.63,140.09 L246.20,140.09 L246.77,140.09 L247.34,140.10 L247.91,140.11 L248.48,140.12 L249.05,140.13 L249.62,140.15 L250.18,140.16 L250.75,140.18 L251.32,140.20 L251.89,140.22 L252.46,140.24 L253.03,140.26 L253.60,140.28 L254.17,140.31 L254.74,140.33 L255.30,140.36 L255.87,140.39 L256.44,140.42 L257.01,140.45 L257.58,140.48 L258.15,140.52 L258.72,140.55 L259.29,140.59 L259.85,140.62 L260.42,140.66 L260.99,140.70 L261.56,140.75 L262.13,140.79 L262.70,140.83 L263.27,140.88 L263.84,140.92 L264.41,140.97 L264.97,141.02 L265.54,141.07 L266.11,141.12 L266.68,141.17 L267.25,141.22 L267.82,141.28 L268.39,141.33 L268.96,141.39 L269.52,141.44 L270.09,141.50 L270.66,141.56 L271.23,141.62 L271.80,141.68" fill="none" stroke="#ff4d00" stroke-width="1.15" stroke-dasharray="0.53,1.06,3.18,1.06,0.53,1.06"/>
<path d="M59.20,31.58 L59.36,32.69 L59.53,33.80 L59.69,34.90 L59.86,36.01 L60.02,37.12 L60.19,38.23 L60.35,39.33 L60.51,40.43 L60.68,41.54 L60.84,42.65 L61.01,43.77 L61.17,44.90 L61.33,46.05 L61.50,47.21 L61.66,48.36 L61.83,49.50 L61.99,50.62 L62.16,51.71 L62.32,52.77 L62.48,53.80 L62.65,54.81 L62.81,55.81 L62.98,56.80 L63.14,57.79 L63.30,58.76 L63.47,59.73 L63.63,60.69 L63.80,61.64 L63.96,62.59 L64.13,63.52 L64.29,64.45 L64.45,65.37 L64.62,66.29 L64.78,67.22 L64.95,68.08 L65.11,68.91 L65.27,69.71 L65.44,70.46 L65.60,71.12 L65.77,71.68 L65.93,72.13 L66.10,72.56 L66.26,72.93 L66.42,73.24 L66.59,73.49 L66.75,73.67 L66.92,73.85 L67.08,74.01 L67.24,74.15 L67.41,74.27 L67.57,74.35 L67.74,74.39 L67.90,74.39 L68.07,74.37 L68.23,74.32 L68.39,74.25 L68.56,74.16 L68.72,74.06 L68.89,73.96 L69.05,73.84 L69.21,73.72 L69.38,73.61 L69.54,73.49 L69.71,73.38 L69.87,73.28 L70.04,73.18 L70.20,73.07 L70.36,72.97 L70.53,72.86 L70.69,72.75 L70.86,72.65 L71.02,72.55 L71.18,72.46 L71.35,72.36 L71.51,72.27 L71.68,72.18 L71.84,72.09 L72.01,72.01 L72.17,71.92 L72.33,71.84 L72.50,71.76 L72.66,71.68 L72.83,71.61 L72.99,71.53 L73.15,71.46 L73.32,71.39 L73.48,71.33 L73.65,71.26 L73.81,71.20 L73.98,71.13 L74.14,71.07 L74.30,71.02 L74.47,70.96 L74.63,70.91 L74.80,70.86 L74.96,70.81 L75.12,70.76 L75.29,70.71 L75.45,70.67 L75.62,70.63 L75.78,70.59 L75.95,70.55 L76.11,70.51 L76.27,70.48 L76.44,70.45 L76.60,70.42 L76.77,70.39 L76.93,70.36 L77.09,70.34 L77.26,70.32 L77.42,70.30 L77.59,70.28 L77.75,70.27 L77.92,70.25 L78.08,70.24 L78.24,70.23 L78.41,70.23 L78.57,70.23 L78.74,70.22 L78.90,70.22 L79.06,70.22 L79.23,70.22 L79.39,70.22 L79.56,70.22 L79.72,70.23 L79.89,70.24 L80.05,70.26 L80.21,70.27 L80.38,70.29 L80.54,70.30 L80.71,70.32 L80.87,70.35 L81.03,70.37 L81.20,70.40 L81.36,70.43 L81.53,70.45 L81.69,70.49 L81.86,70.52 L82.02,70.56 L82.18,70.59 L82.35,70.63 L82.51,70.68 L82.68,70.72 L82.84,70.76 L83.00,70.81 L83.17,70.86 L83.33,70.91 L83.50,70.97 L83.66,71.02 L83.83,71.08 L83.99,71.14 L84.15,71.20 L84.32,71.27 L84.48,71.33 L84.65,71.40 L84.81,71.47 L84.97,71.54 L85.14,71.61 L85.30,71.69 L85.47,71.77 L85.63,71.85 L85.80,71.93 L85.96,72.01 L86.12,72.09 L86.29,72.18 L86.45,72.27 L86.62,72.36 L86.78,72.46 L86.94,72.55 L87.11,72.65 L87.27,72.75 L87.44,72.85 L87.60,72.95 L87.77,73.05 L87.93,73.16 L88.09,73.27 L88.26,73.38 L88.42,73.49 L88.59,73.61 L88.75,73.72 L88.91,73.84 L89.08,73.96 L89.24,74.08 L89.41,74.20 L89.57,74.33 L89.74,74.46 L89.90,74.59 L90.06,74.72 L90.23,74.85 L90.39,74.98 L90.56,75.12 L90.72,75.26 L90.88,75.40 L91.05,75.54 L91.21,75.68 L91.38,75.82 L91.54,75.97 L91.71,76.12 L91.87,76.27 L92.03,76.42 L92.20,76.57 L92.36,76.73 L92.53,76.88 L92.69,77.04 L92.85,77.20 L93.02,77.36 L93.18,77.52 L93.35,77.69 L93.51,77.86 L93.68,78.02 L93.84,78.19 L94.00,78.36 L94.17,78.54 L94.33,78.71 L94.50,78.89 L94.66,79.06 L94.82,79.24 L94.99,79.42 L95.15,79.60 L95.32,79.78 L95.48,79.97 L95.65,80.15 L95.81,80.34 L95.97,80.53 L96.14,80.72 L96.30,80.91 L96.47,81.10 L96.63,81.30 L96.79,81.49 L96.96,81.69 L97.12,81.89 L97.29,82.09 L97.45,82.29 L97.62,82.49 L97.78,82.70 L97.94,82.90 L98.11,83.11 L98.27,83.32 L98.44,83.53 L98.60,83.74 L98.76,83.95 L98.93,84.16 L99.09,84.38 L99.26,84.59 L99.42,84.81 L99.59,85.03 L99.75,85.25 L99.91,85.47 L100.08,85.69 L100.24,85.91 L100.41,86.14 L100.57,86.36 L100.73,86.59 L100.90,86.82 L101.06,87.05 L101.23,87.28 L101.39,87.51 L101.56,87.74 L101.72,87.98 L102.29,88.79 L102.86,89.63 L103.43,90.47 L104.00,91.33 L104.56,92.19 L105.13,93.07 L105.70,93.96 L106.27,94.86 L106.84,95.78 L107.41,96.70 L107.98,97.63 L108.55,98.57 L109.11,99.52 L109.68,100.48 L110.25,101.44 L110.82,102.41 L111.39,103.39 L111.96,104.38 L112.53,105.37 L113.10,106.37 L113.67,107.38 L114.23,108.39 L114.80,109.40 L115.37,110.42 L115.94,111.45 L116.51,112.48 L117.08,113.51 L117.65,114.54 L118.22,115.58 L118.78,116.62 L119.35,117.66 L119.92,118.70 L120.49,119.74 L121.06,120.78 L121.63,121.83 L122.20,122.87 L122.77,123.91 L123.34,124.96 L123.90,126.00 L124.47,127.04 L125.04,128.07 L125.61,129.11 L126.18,130.14 L126.75,131.17 L127.32,132.19 L127.89,133.21 L128.45,134.23 L129.02,135.24 L129.59,136.24 L130.16,137.25 L130.73,138.24 L131.30,139.23 L131.87,140.21 L132.44,141.18 L133.01,142.14 L133.57,143.09 L134.14,144.03 L134.71,144.96 L135.28,145.88 L135.85,146.78 L136.42,147.67 L136.99,148.55 L137.56,149.41 L138.13,150.26 L138.69,151.09 L139.26,151.90 L139.83,152.69 L140.40,153.47 L140.97,154.22 L141.54,154.95 L142.11,155.66 L142.68,156.34 L143.24,157.00 L143.81,157.64 L144.38,158.24 L144.95,158.82 L145.52,159.38 L146.09,159.90 L146.66,160.38 L147.23,160.85 L147.80,161.28 L148.36,161.67 L148.93,162.02 L149.50,162.35 L150.07,162.64 L150.64,162.87 L151.21,163.08 L151.78,163.28 L152.35,163.41 L152.91,163.44 L153.48,163.44 L154.05,163.45 L154.62,163.45 L155.19,163.43 L155.76,163.33 L156.33,163.17 L156.90,163.00 L157.47,162.82 L158.03,162.60 L158.60,162.37 L159.17,162.12 L159.74,161.85 L160.31,161.57 L160.88,161.28 L161.45,160.98 L162.02,160.68 L162.58,160.37 L163.15,160.06 L163.72,159.76 L164.29,159.45 L164.86,159.16 L165.43,158.87 L166.00,158.59 L166.57,158.33 L167.14,158.07 L167.70,157.82 L168.27,157.57 L168.84,157.33 L169.41,157.10 L169.98,156.86 L170.55,156.63 L171.12,156.40 L171.69,156.17 L172.25,155.94 L172.82,155.72 L173.39,155.50 L173.96,155.28 L174.53,155.06 L175.10,154.85 L175.67,154.63 L176.24,154.42 L176.81,154.21 L177.37,154.00 L177.94,153.80 L178.51,153.60 L179.08,153.39 L179.65,153.20 L180.22,153.00 L180.79,152.80 L181.36,152.61 L181.92,152.42 L182.49,152.23 L183.06,152.04 L183.63,151.86 L184.20,151.67 L184.77,151.49 L185.34,151.31 L185.91,151.14 L186.48,150.96 L187.04,150.79 L187.61,150.62 L188.18,150.45 L188.75,150.28 L189.32,150.12 L189.89,149.95 L190.46,149.79 L191.03,149.63 L191.60,149.47 L192.16,149.32 L192.73,149.16 L193.30,149.01 L193.87,148.86 L194.44,148.71 L195.01,148.57 L195.58,148.42 L196.15,148.28 L196.71,148.14 L197.28,148.00 L197.85,147.86 L198.42,147.73 L198.99,147.59 L199.56,147.46 L200.13,147.33 L200.70,147.21 L201.27,147.08 L201.83,146.96 L202.40,146.83 L202.97,146.71 L203.54,146.60 L204.11,146.48 L204.68,146.36 L205.25,146.25 L205.82,146.14 L206.38,146.03 L206.95,145.92 L207.52,145.82 L208.09,145.71 L208.66,145.61 L209.23,145.51 L209.80,145.41 L210.37,145.31 L210.94,145.22 L211.50,145.12 L212.07,145.03 L212.64,144.94 L213.21,144.85 L213.78,144.76 L214.35,144.68 L214.92,144.60 L215.49,144.51 L216.05,144.43 L216.62,144.36 L217.19,144.28 L217.76,144.20 L218.33,144.13 L218.90,144.06 L219.47,143.99 L220.04,143.92 L220.61,143.86 L221.17,143.79 L221.74,143.73 L222.31,143.67 L222.88,143.61 L223.45,143.55 L224.02,143.49 L224.59,143.44 L225.16,143.38 L225.72,143.33 L226.29,143.28 L226.86,143.23 L227.43,143.18 L228.00,143.14 L228.57,143.09 L229.14,143.05 L229.71,143.01 L230.28,142.97 L230.84,142.93 L231.41,142.90 L231.98,142.86 L232.55,142.83 L233.12,142.80 L233.69,142.77 L234.26,142.74 L234.83,142.71 L235.39,142.69 L235.96,142.67 L236.53,142.64 L237.10,142.62 L237.67,142.60 L238.24,142.59 L238.81,142.57 L239.38,142.55 L239.95,142.54 L240.51,142.53 L241.08,142.52 L241.65,142.51 L242.22,142.50 L242.79,142.50 L243.36,142.49 L243.93,142.49 L244.50,142.49 L245.07,142.49 L245.63,142.49 L246.20,142.49 L246.77,142.50 L247.34,142.50 L247.91,142.51 L248.48,142.52 L249.05,142.53 L249.62,142.54 L250.18,142.55 L250.75,142.57 L251.32,142.58 L251.89,142.60 L252.46,142.62 L253.03,142.64 L253.60,142.66 L254.17,142.68 L254.74,142.70 L255.30,142.73 L255.87,142.75 L256.44,142.78 L257.01,142.81 L257.58,142.84 L258.15,142.87 L258.72,142.90 L259.29,142.94 L259.85,142.97 L260.42,143.01 L260.99,143.05 L261.56,143.09 L262.13,143.13 L262.70,143.17 L263.27,143.21 L263.84,143.26 L264.41,143.30 L264.97,143.35 L265.54,143.40 L266.11,143.45 L266.68,143.50 L267.25,143.55 L267.82,143.60 L268.39,143.66 L268.96,143.71 L269.52,143.77 L270.09,143.83 L270.66,143.89 L271.23,143.95 L271.80,144.01" fill="none" stroke="#808080" stroke-width="1.15" stroke-dasharray="1.06,1.06,1.06,1.06,1.06,1.06,1.06,2.12"/>
<path d="M59.20,31.58 L59.36,32.69 L59.53,33.80 L59.69,34.90 L59.86,36.01 L60.02,37.12 L60.19,38.22 L60.35,39.30 L60.51,40.37 L60.68,41.46 L60.84,42.59 L61.01,43.78 L61.17,45.06 L61.33,46.42 L61.50,47.81 L61.66,49.21 L61.83,50.58 L61.99,51.87 L62.16,53.11 L62.32,54.32 L62.48,55.50 L62.65,56.66 L62.81,57.79 L62.98,58.89 L63.14,59.97 L63.30,61.03 L63.47,62.09 L63.63,63.14 L63.80,64.17 L63.96,65.19 L64.13,66.21 L64.29,67.21 L64.45,68.21 L64.62,69.20 L64.78,70.18 L64.95,71.15 L65.11,72.13 L65.27,73.14 L65.44,74.15 L65.60,75.10 L65.77,75.94 L65.93,76.66 L66.10,77.32 L66.26,77.93 L66.42,78.51 L66.59,79.08 L66.75,79.65 L66.92,80.23 L67.08,80.83 L67.24,81.42 L67.41,81.99 L67.57,82.49 L67.74,82.92 L67.90,83.29 L68.07,83.65 L68.23,84.01 L68.39,84.36 L68.56,84.70 L68.72,85.01 L68.89,85.28 L69.05,85.53 L69.21,85.73 L69.38,85.88 L69.54,85.97 L69.71,86.00 L69.87,85.99 L70.04,85.97 L70.20,85.93 L70.36,85.87 L70.53,85.81 L70.69,85.74 L70.86,85.66 L71.02,85.57 L71.18,85.49 L71.35,85.40 L71.51,85.31 L71.68,85.23 L71.84,85.15 L72.01,85.07 L72.17,85.00 L72.33,84.92 L72.50,84.84 L72.66,84.76 L72.83,84.68 L72.99,84.61 L73.15,84.54 L73.32,84.47 L73.48,84.41 L73.65,84.35 L73.81,84.29 L73.98,84.23 L74.14,84.18 L74.30,84.12 L74.47,84.07 L74.63,84.02 L74.80,83.98 L74.96,83.93 L75.12,83.89 L75.29,83.85 L75.45,83.82 L75.62,83.78 L75.78,83.75 L75.95,83.72 L76.11,83.69 L76.27,83.67 L76.44,83.64 L76.60,83.62 L76.77,83.60 L76.93,83.58 L77.09,83.57 L77.26,83.55 L77.42,83.55 L77.59,83.54 L77.75,83.53 L77.92,83.53 L78.08,83.52 L78.24,83.52 L78.41,83.52 L78.57,83.53 L78.74,83.53 L78.90,83.54 L79.06,83.55 L79.23,83.56 L79.39,83.58 L79.56,83.59 L79.72,83.61 L79.89,83.63 L80.05,83.65 L80.21,83.68 L80.38,83.70 L80.54,83.73 L80.71,83.76 L80.87,83.79 L81.03,83.83 L81.20,83.86 L81.36,83.90 L81.53,83.94 L81.69,83.98 L81.86,84.02 L82.02,84.07 L82.18,84.12 L82.35,84.17 L82.51,84.22 L82.68,84.27 L82.84,84.32 L83.00,84.38 L83.17,84.44 L83.33,84.50 L83.50,84.56 L83.66,84.62 L83.83,84.69 L83.99,84.76 L84.15,84.83 L84.32,84.90 L84.48,84.97 L84.65,85.05 L84.81,85.12 L84.97,85.20 L85.14,85.28 L85.30,85.36 L85.47,85.45 L85.63,85.53 L85.80,85.62 L85.96,85.71 L86.12,85.80 L86.29,85.89 L86.45,85.98 L86.62,86.08 L86.78,86.17 L86.94,86.27 L87.11,86.37 L87.27,86.47 L87.44,86.58 L87.60,86.68 L87.77,86.79 L87.93,86.90 L88.09,87.01 L88.26,87.12 L88.42,87.23 L88.59,87.35 L88.75,87.46 L88.91,87.58 L89.08,87.70 L89.24,87.82 L89.41,87.95 L89.57,88.07 L89.74,88.20 L89.90,88.32 L90.06,88.45 L90.23,88.58 L90.39,88.71 L90.56,88.85 L90.72,88.98 L90.88,89.12 L91.05,89.25 L91.21,89.39 L91.38,89.53 L91.54,89.68 L91.71,89.82 L91.87,89.96 L92.03,90.11 L92.20,90.26 L92.36,90.41 L92.53,90.56 L92.69,90.71 L92.85,90.86 L93.02,91.02 L93.18,91.17 L93.35,91.33 L93.51,91.49 L93.68,91.65 L93.84,91.81 L94.00,91.97 L94.17,92.14 L94.33,92.30 L94.50,92.47 L94.66,92.64 L94.82,92.81 L94.99,92.97 L95.15,93.15 L95.32,93.32 L95.48,93.49 L95.65,93.67 L95.81,93.84 L95.97,94.02 L96.14,94.20 L96.30,94.38 L96.47,94.56 L96.63,94.75 L96.79,94.93 L96.96,95.11 L97.12,95.30 L97.29,95.49 L97.45,95.68 L97.62,95.87 L97.78,96.06 L97.94,96.25 L98.11,96.44 L98.27,96.64 L98.44,96.83 L98.60,97.03 L98.76,97.23 L98.93,97.43 L99.09,97.63 L99.26,97.83 L99.42,98.03 L99.59,98.23 L99.75,98.44 L99.91,98.64 L100.08,98.85 L100.24,99.06 L100.41,99.27 L100.57,99.48 L100.73,99.69 L100.90,99.90 L101.06,100.12 L101.23,100.33 L101.39,100.54 L101.56,100.76 L101.72,100.98 L102.29,101.74 L102.86,102.51 L103.43,103.30 L104.00,104.09 L104.56,104.90 L105.13,105.72 L105.70,106.55 L106.27,107.39 L106.84,108.24 L107.41,109.11 L107.98,109.98 L108.55,110.86 L109.11,111.75 L109.68,112.65 L110.25,113.56 L110.82,114.47 L111.39,115.40 L111.96,116.33 L112.53,117.27 L113.10,118.22 L113.67,119.18 L114.23,120.14 L114.80,121.11 L115.37,122.09 L115.94,123.08 L116.51,124.07 L117.08,125.06 L117.65,126.07 L118.22,127.07 L118.78,128.09 L119.35,129.10 L119.92,130.13 L120.49,131.15 L121.06,132.18 L121.63,133.22 L122.20,134.26 L122.77,135.29 L123.34,136.33 L123.90,137.36 L124.47,138.40 L125.04,139.43 L125.61,140.46 L126.18,141.48 L126.75,142.50 L127.32,143.51 L127.89,144.51 L128.45,145.50 L129.02,146.49 L129.59,147.46 L130.16,148.42 L130.73,149.37 L131.30,150.31 L131.87,151.23 L132.44,152.13 L133.01,153.02 L133.57,153.89 L134.14,154.75 L134.71,155.58 L135.28,156.39 L135.85,157.19 L136.42,157.96 L136.99,158.71 L137.56,159.43 L138.13,160.14 L138.69,160.82 L139.26,161.48 L139.83,162.11 L140.40,162.72 L140.97,163.31 L141.54,163.87 L142.11,164.40 L142.68,164.91 L143.24,165.40 L143.81,165.85 L144.38,166.28 L144.95,166.68 L145.52,167.06 L146.09,167.41 L146.66,167.72 L147.23,168.01 L147.80,168.28 L148.36,168.50 L148.93,168.70 L149.50,168.88 L150.07,169.02 L150.64,169.11 L151.21,169.16 L151.78,169.20 L152.35,169.23 L152.91,169.23 L153.48,169.18 L154.05,169.09 L154.62,168.99 L155.19,168.87 L155.76,168.72 L156.33,168.53 L156.90,168.33 L157.47,168.12 L158.03,167.88 L158.60,167.62 L159.17,167.35 L159.74,167.06 L160.31,166.75 L160.88,166.44 L161.45,166.11 L162.02,165.77 L162.58,165.42 L163.15,165.06 L163.72,164.69 L164.29,164.32 L164.86,163.95 L165.43,163.57 L166.00,163.19 L166.57,162.81 L167.14,162.42 L167.70,162.04 L168.27,161.67 L168.84,161.30 L169.41,160.93 L169.98,160.57 L170.55,160.22 L171.12,159.87 L171.69,159.53 L172.25,159.20 L172.82,158.87 L173.39,158.56 L173.96,158.24 L174.53,157.94 L175.10,157.64 L175.67,157.35 L176.24,157.06 L176.81,156.78 L177.37,156.50 L177.94,156.23 L178.51,155.97 L179.08,155.71 L179.65,155.46 L180.22,155.21 L180.79,154.97 L181.36,154.73 L181.92,154.50 L182.49,154.27 L183.06,154.05 L183.63,153.83 L184.20,153.62 L184.77,153.41 L185.34,153.20 L185.91,153.00 L186.48,152.81 L187.04,152.62 L187.61,152.43 L188.18,152.25 L188.75,152.07 L189.32,151.89 L189.89,151.72 L190.46,151.56 L191.03,151.39 L191.60,151.23 L192.16,151.08 L192.73,150.93 L193.30,150.78 L193.87,150.63 L194.44,150.49 L195.01,150.35 L195.58,150.22 L196.15,150.09 L196.71,149.96 L197.28,149.83 L197.85,149.71 L198.42,149.59 L198.99,149.47 L199.56,149.36 L200.13,149.24 L200.70,149.14 L201.27,149.03 L201.83,148.92 L202.40,148.82 L202.97,148.72 L203.54,148.62 L204.11,148.53 L204.68,148.43 L205.25,148.34 L205.82,148.25 L206.38,148.16 L206.95,148.08 L207.52,147.99 L208.09,147.91 L208.66,147.83 L209.23,147.75 L209.80,147.67 L210.37,147.59 L210.94,147.51 L211.50,147.44 L212.07,147.37 L212.64,147.29 L213.21,147.22 L213.78,147.15 L214.35,147.08 L214.92,147.01 L215.49,146.94 L216.05,146.87 L216.62,146.80 L217.19,146.73 L217.76,146.67 L218.33,146.60 L218.90,146.54 L219.47,146.47 L220.04,146.41 L220.61,146.35 L221.17,146.29 L221.74,146.23 L222.31,146.17 L222.88,146.11 L223.45,146.05 L224.02,146.00 L224.59,145.94 L225.16,145.89 L225.72,145.83 L226.29,145.78 L226.86,145.73 L227.43,145.68 L228.00,145.63 L228.57,145.58 L229.14,145.54 L229.71,145.49 L230.28,145.45 L230.84,145.40 L231.41,145.36 L231.98,145.32 L232.55,145.28 L233.12,145.25 L233.69,145.21 L234.26,145.18 L234.83,145.14 L235.39,145.11 L235.96,145.08 L236.53,145.05 L237.10,145.02 L237.67,145.00 L238.24,144.97 L238.81,144.95 L239.38,144.93 L239.95,144.91 L240.51,144.89 L241.08,144.87 L241.65,144.86 L242.22,144.84 L242.79,144.83 L243.36,144.82 L243.93,144.81 L244.50,144.81 L245.07,144.80 L245.63,144.80 L246.20,144.80 L246.77,144.80 L247.34,144.80 L247.91,144.81 L248.48,144.81 L249.05,144.82 L249.62,144.83 L250.18,144.84 L250.75,144.85 L251.32,144.87 L251.89,144.89 L252.46,144.91 L253.03,144.93 L253.60,144.95 L254.17,144.98 L254.74,145.01 L255.30,145.04 L255.87,145.07 L256.44,145.11 L257.01,145.14 L257.58,145.18 L258.15,145.22 L258.72,145.27 L259.29,145.31 L259.85,145.36 L260.42,145.41 L260.99,145.46 L261.56,145.52 L262.13,145.58 L262.70,145.64 L263.27,145.70 L263.84,145.76 L264.41,145.83 L264.97,145.90 L265.54,145.97 L266.11,146.05 L266.68,146.13 L267.25,146.21 L267.82,146.29 L268.39,146.37 L268.96,146.46 L269.52,146.55 L270.09,146.64 L270.66,146.74 L271.23,146.84 L271.80,146.94" fill="none" stroke="#ff0000" stroke-width="1.15"/>
<path d="M59.20,31.58 L59.36,32.69 L59.53,33.80 L59.69,34.90 L59.86,36.01 L60.02,37.12 L60.19,38.22 L60.35,39.30 L60.51,40.37 L60.68,41.46 L60.84,42.59 L61.01,43.78 L61.17,45.04 L61.33,46.37 L61.50,47.75 L61.66,49.14 L61.83,50.52 L61.99,51.89 L62.16,53.23 L62.32,54.58 L62.48,55.93 L62.65,57.28 L62.81,58.64 L62.98,60.00 L63.14,61.33 L63.30,62.65 L63.47,63.95 L63.63,65.23 L63.80,66.47 L63.96,67.65 L64.13,68.79 L64.29,69.90 L64.45,70.99 L64.62,72.08 L64.78,73.15 L64.95,74.20 L65.11,75.24 L65.27,76.28 L65.44,77.30 L65.60,78.31 L65.77,79.32 L65.93,80.31 L66.10,81.30 L66.26,82.28 L66.42,83.26 L66.59,84.22 L66.75,85.18 L66.92,86.13 L67.08,87.09 L67.24,88.02 L67.41,88.82 L67.57,89.58 L67.74,90.30 L67.90,90.98 L68.07,91.63 L68.23,92.26 L68.39,92.85 L68.56,93.43 L68.72,94.00 L68.89,94.58 L69.05,95.13 L69.21,95.66 L69.38,96.14 L69.54,96.56 L69.71,96.91 L69.87,97.18 L70.04,97.44 L70.20,97.69 L70.36,97.94 L70.53,98.16 L70.69,98.37 L70.86,98.56 L71.02,98.72 L71.18,98.86 L71.35,98.96 L71.51,99.03 L71.68,99.06 L71.84,99.05 L72.01,99.03 L72.17,99.00 L72.33,98.96 L72.50,98.91 L72.66,98.85 L72.83,98.78 L72.99,98.71 L73.15,98.64 L73.32,98.57 L73.48,98.50 L73.65,98.43 L73.81,98.36 L73.98,98.30 L74.14,98.25 L74.30,98.20 L74.47,98.15 L74.63,98.10 L74.80,98.05 L74.96,98.00 L75.12,97.96 L75.29,97.92 L75.45,97.88 L75.62,97.84 L75.78,97.80 L75.95,97.76 L76.11,97.73 L76.27,97.70 L76.44,97.67 L76.60,97.64 L76.77,97.61 L76.93,97.58 L77.09,97.56 L77.26,97.54 L77.42,97.52 L77.59,97.50 L77.75,97.48 L77.92,97.46 L78.08,97.45 L78.24,97.44 L78.41,97.43 L78.57,97.42 L78.74,97.41 L78.90,97.41 L79.06,97.40 L79.23,97.40 L79.39,97.40 L79.56,97.40 L79.72,97.40 L79.89,97.41 L80.05,97.41 L80.21,97.42 L80.38,97.43 L80.54,97.44 L80.71,97.45 L80.87,97.46 L81.03,97.48 L81.20,97.50 L81.36,97.52 L81.53,97.54 L81.69,97.56 L81.86,97.59 L82.02,97.61 L82.18,97.64 L82.35,97.67 L82.51,97.70 L82.68,97.73 L82.84,97.77 L83.00,97.80 L83.17,97.84 L83.33,97.88 L83.50,97.92 L83.66,97.97 L83.83,98.01 L83.99,98.06 L84.15,98.11 L84.32,98.16 L84.48,98.21 L84.65,98.26 L84.81,98.32 L84.97,98.37 L85.14,98.43 L85.30,98.49 L85.47,98.56 L85.63,98.62 L85.80,98.69 L85.96,98.75 L86.12,98.82 L86.29,98.89 L86.45,98.96 L86.62,99.04 L86.78,99.11 L86.94,99.19 L87.11,99.27 L87.27,99.35 L87.44,99.44 L87.60,99.52 L87.77,99.61 L87.93,99.69 L88.09,99.78 L88.26,99.87 L88.42,99.97 L88.59,100.06 L88.75,100.16 L88.91,100.26 L89.08,100.36 L89.24,100.46 L89.41,100.56 L89.57,100.67 L89.74,100.78 L89.90,100.89 L90.06,101.00 L90.23,101.11 L90.39,101.22 L90.56,101.34 L90.72,101.46 L90.88,101.58 L91.05,101.70 L91.21,101.82 L91.38,101.94 L91.54,102.07 L91.71,102.20 L91.87,102.33 L92.03,102.46 L92.20,102.59 L92.36,102.73 L92.53,102.87 L92.69,103.00 L92.85,103.14 L93.02,103.29 L93.18,103.43 L93.35,103.58 L93.51,103.73 L93.68,103.88 L93.84,104.03 L94.00,104.18 L94.17,104.34 L94.33,104.49 L94.50,104.65 L94.66,104.81 L94.82,104.97 L94.99,105.13 L95.15,105.30 L95.32,105.46 L95.48,105.62 L95.65,105.79 L95.81,105.96 L95.97,106.13 L96.14,106.30 L96.30,106.48 L96.47,106.65 L96.63,106.83 L96.79,107.01 L96.96,107.18 L97.12,107.36 L97.29,107.54 L97.45,107.72 L97.62,107.90 L97.78,108.09 L97.94,108.27 L98.11,108.46 L98.27,108.64 L98.44,108.83 L98.60,109.02 L98.76,109.20 L98.93,109.39 L99.09,109.58 L99.26,109.77 L99.42,109.96 L99.59,110.15 L99.75,110.35 L99.91,110.54 L100.08,110.73 L100.24,110.92 L100.41,111.12 L100.57,111.31 L100.73,111.51 L100.90,111.70 L101.06,111.90 L101.23,112.09 L101.39,112.29 L101.56,112.49 L101.72,112.68 L102.29,113.36 L102.86,114.04 L103.43,114.73 L104.00,115.42 L104.56,116.11 L105.13,116.80 L105.70,117.50 L106.27,118.22 L106.84,118.94 L107.41,119.67 L107.98,120.41 L108.55,121.17 L109.11,121.94 L109.68,122.73 L110.25,123.54 L110.82,124.36 L111.39,125.21 L111.96,126.07 L112.53,126.96 L113.10,127.88 L113.67,128.82 L114.23,129.78 L114.80,130.78 L115.37,131.80 L115.94,132.86 L116.51,133.94 L117.08,135.04 L117.65,136.18 L118.22,137.33 L118.78,138.49 L119.35,139.66 L119.92,140.85 L120.49,142.04 L121.06,143.23 L121.63,144.42 L122.20,145.60 L122.77,146.78 L123.34,147.93 L123.90,149.08 L124.47,150.21 L125.04,151.32 L125.61,152.40 L126.18,153.47 L126.75,154.52 L127.32,155.55 L127.89,156.56 L128.45,157.54 L129.02,158.51 L129.59,159.44 L130.16,160.36 L130.73,161.25 L131.30,162.11 L131.87,162.95 L132.44,163.76 L133.01,164.55 L133.57,165.31 L134.14,166.04 L134.71,166.75 L135.28,167.43 L135.85,168.07 L136.42,168.69 L136.99,169.28 L137.56,169.84 L138.13,170.37 L138.69,170.87 L139.26,171.34 L139.83,171.78 L140.40,172.17 L140.97,172.55 L141.54,172.89 L142.11,173.19 L142.68,173.46 L143.24,173.71 L143.81,173.92 L144.38,174.07 L144.95,174.20 L145.52,174.31 L146.09,174.38 L146.66,174.38 L147.23,174.36 L147.80,174.31 L148.36,174.25 L148.93,174.16 L149.50,174.02 L150.07,173.84 L150.64,173.65 L151.21,173.45 L151.78,173.21 L152.35,172.96 L152.91,172.70 L153.48,172.42 L154.05,172.13 L154.62,171.83 L155.19,171.53 L155.76,171.22 L156.33,170.91 L156.90,170.60 L157.47,170.29 L158.03,169.98 L158.60,169.67 L159.17,169.36 L159.74,169.05 L160.31,168.75 L160.88,168.44 L161.45,168.13 L162.02,167.82 L162.58,167.51 L163.15,167.21 L163.72,166.90 L164.29,166.60 L164.86,166.29 L165.43,165.99 L166.00,165.69 L166.57,165.39 L167.14,165.09 L167.70,164.79 L168.27,164.50 L168.84,164.20 L169.41,163.91 L169.98,163.62 L170.55,163.33 L171.12,163.04 L171.69,162.76 L172.25,162.47 L172.82,162.19 L173.39,161.92 L173.96,161.64 L174.53,161.37 L175.10,161.10 L175.67,160.83 L176.24,160.57 L176.81,160.30 L177.37,160.04 L177.94,159.79 L178.51,159.54 L179.08,159.29 L179.65,159.04 L180.22,158.80 L180.79,158.56 L181.36,158.32 L181.92,158.09 L182.49,157.86 L183.06,157.63 L183.63,157.41 L184.20,157.19 L184.77,156.97 L185.34,156.75 L185.91,156.54 L186.48,156.33 L187.04,156.13 L187.61,155.93 L188.18,155.73 L188.75,155.53 L189.32,155.34 L189.89,155.15 L190.46,154.96 L191.03,154.77 L191.60,154.59 L192.16,154.41 L192.73,154.23 L193.30,154.06 L193.87,153.89 L194.44,153.72 L195.01,153.56 L195.58,153.39 L196.15,153.23 L196.71,153.08 L197.28,152.92 L197.85,152.77 L198.42,152.62 L198.99,152.47 L199.56,152.33 L200.13,152.19 L200.70,152.05 L201.27,151.91 L201.83,151.78 L202.40,151.65 L202.97,151.52 L203.54,151.39 L204.11,151.27 L204.68,151.15 L205.25,151.03 L205.82,150.91 L206.38,150.80 L206.95,150.69 L207.52,150.58 L208.09,150.47 L208.66,150.36 L209.23,150.26 L209.80,150.16 L210.37,150.06 L210.94,149.97 L211.50,149.87 L212.07,149.78 L212.64,149.69 L213.21,149.61 L213.78,149.52 L214.35,149.44 L214.92,149.36 L215.49,149.28 L216.05,149.20 L216.62,149.13 L217.19,149.06 L217.76,148.99 L218.33,148.92 L218.90,148.85 L219.47,148.79 L220.04,148.72 L220.61,148.66 L221.17,148.61 L221.74,148.55 L222.31,148.49 L222.88,148.44 L223.45,148.39 L224.02,148.34 L224.59,148.29 L225.16,148.25 L225.72,148.20 L226.29,148.16 L226.86,148.12 L227.43,148.08 L228.00,148.04 L228.57,148.01 L229.14,147.97 L229.71,147.94 L230.28,147.91 L230.84,147.88 L231.41,147.85 L231.98,147.83 L232.55,147.80 L233.12,147.78 L233.69,147.76 L234.26,147.74 L234.83,147.72 L235.39,147.71 L235.96,147.69 L236.53,147.68 L237.10,147.66 L237.67,147.65 L238.24,147.64 L238.81,147.63 L239.38,147.63 L239.95,147.62 L240.51,147.62 L241.08,147.61 L241.65,147.61 L242.22,147.61 L242.79,147.61 L243.36,147.61 L243.93,147.61 L244.50,147.62 L245.07,147.62 L245.63,147.63 L246.20,147.63 L246.77,147.64 L247.34,147.65 L247.91,147.66 L248.48,147.67 L249.05,147.69 L249.62,147.70 L250.18,147.71 L250.75,147.73 L251.32,147.75 L251.89,147.76 L252.46,147.78 L253.03,147.80 L253.60,147.82 L254.17,147.84 L254.74,147.86 L255.30,147.88 L255.87,147.91 L256.44,147.93 L257.01,147.95 L257.58,147.98 L258.15,148.01 L258.72,148.03 L259.29,148.06 L259.85,148.09 L260.42,148.12 L260.99,148.15 L261.56,148.18 L262.13,148.21 L262.70,148.24 L263.27,148.27 L263.84,148.30 L264.41,148.33 L264.97,148.37 L265.54,148.40 L266.11,148.44 L266.68,148.47 L267.25,148.51 L267.82,148.54 L268.39,148.58 L268.96,148.61 L269.52,148.65 L270.09,148.69 L270.66,148.72 L271.23,148.76 L271.80,148.80" fill="none" stroke="#00ff00" stroke-width="1.15" stroke-dasharray="2.12,1.06"/>
<path d="M59.20,31.58 L59.36,32.69 L59.53,33.80 L59.69,34.90 L59.86,36.01 L60.02,37.12 L60.19,38.22 L60.35,39.30 L60.51,40.37 L60.68,41.46 L60.84,42.59 L61.01,43.78 L61.17,45.04 L61.33,46.37 L61.50,47.75 L61.66,49.14 L61.83,50.52 L61.99,51.89 L62.16,53.23 L62.32,54.58 L62.48,55.93 L62.65,57.28 L62.81,58.63 L62.98,59.98 L63.14,61.33 L63.30,62.67 L63.47,64.02 L63.63,65.37 L63.80,66.72 L63.96,68.07 L64.13,69.42 L64.29,70.76 L64.45,72.11 L64.62,73.48 L64.78,74.84 L64.95,76.18 L65.11,77.48 L65.27,78.75 L65.44,80.00 L65.60,81.22 L65.77,82.43 L65.93,83.62 L66.10,84.79 L66.26,85.95 L66.42,87.10 L66.59,88.25 L66.75,89.38 L66.92,90.50 L67.08,91.62 L67.24,92.73 L67.41,93.83 L67.57,94.92 L67.74,96.01 L67.90,97.10 L68.07,98.21 L68.23,99.32 L68.39,100.38 L68.56,101.34 L68.72,102.24 L68.89,103.10 L69.05,103.92 L69.21,104.68 L69.38,105.38 L69.54,106.01 L69.71,106.60 L69.87,107.15 L70.04,107.66 L70.20,108.14 L70.36,108.59 L70.53,109.03 L70.69,109.44 L70.86,109.82 L71.02,110.15 L71.18,110.43 L71.35,110.70 L71.51,110.95 L71.68,111.19 L71.84,111.41 L72.01,111.60 L72.17,111.75 L72.33,111.88 L72.50,111.98 L72.66,112.07 L72.83,112.15 L72.99,112.23 L73.15,112.30 L73.32,112.35 L73.48,112.38 L73.65,112.39 L73.81,112.39 L73.98,112.38 L74.14,112.37 L74.30,112.35 L74.47,112.33 L74.63,112.31 L74.80,112.29 L74.96,112.26 L75.12,112.23 L75.29,112.20 L75.45,112.16 L75.62,112.11 L75.78,112.06 L75.95,112.00 L76.11,111.93 L76.27,111.86 L76.44,111.79 L76.60,111.72 L76.77,111.66 L76.93,111.59 L77.09,111.54 L77.26,111.48 L77.42,111.44 L77.59,111.41 L77.75,111.37 L77.92,111.34 L78.08,111.32 L78.24,111.29 L78.41,111.27 L78.57,111.25 L78.74,111.24 L78.90,111.22 L79.06,111.21 L79.23,111.20 L79.39,111.19 L79.56,111.18 L79.72,111.18 L79.89,111.19 L80.05,111.19 L80.21,111.19 L80.38,111.20 L80.54,111.20 L80.71,111.21 L80.87,111.22 L81.03,111.24 L81.20,111.26 L81.36,111.28 L81.53,111.30 L81.69,111.32 L81.86,111.35 L82.02,111.38 L82.18,111.41 L82.35,111.44 L82.51,111.48 L82.68,111.52 L82.84,111.55 L83.00,111.59 L83.17,111.64 L83.33,111.68 L83.50,111.73 L83.66,111.78 L83.83,111.83 L83.99,111.89 L84.15,111.94 L84.32,112.00 L84.48,112.06 L84.65,112.13 L84.81,112.19 L84.97,112.26 L85.14,112.32 L85.30,112.39 L85.47,112.47 L85.63,112.54 L85.80,112.62 L85.96,112.69 L86.12,112.77 L86.29,112.85 L86.45,112.94 L86.62,113.02 L86.78,113.11 L86.94,113.20 L87.11,113.29 L87.27,113.39 L87.44,113.48 L87.60,113.58 L87.77,113.68 L87.93,113.78 L88.09,113.88 L88.26,113.98 L88.42,114.09 L88.59,114.19 L88.75,114.30 L88.91,114.41 L89.08,114.53 L89.24,114.64 L89.41,114.76 L89.57,114.88 L89.74,114.99 L89.90,115.12 L90.06,115.24 L90.23,115.36 L90.39,115.49 L90.56,115.62 L90.72,115.75 L90.88,115.88 L91.05,116.01 L91.21,116.14 L91.38,116.28 L91.54,116.42 L91.71,116.56 L91.87,116.70 L92.03,116.84 L92.20,116.98 L92.36,117.13 L92.53,117.27 L92.69,117.42 L92.85,117.57 L93.02,117.72 L93.18,117.87 L93.35,118.03 L93.51,118.19 L93.68,118.34 L93.84,118.50 L94.00,118.66 L94.17,118.82 L94.33,118.98 L94.50,119.15 L94.66,119.31 L94.82,119.48 L94.99,119.65 L95.15,119.81 L95.32,119.98 L95.48,120.16 L95.65,120.33 L95.81,120.50 L95.97,120.68 L96.14,120.86 L96.30,121.03 L96.47,121.21 L96.63,121.39 L96.79,121.58 L96.96,121.76 L97.12,121.94 L97.29,122.13 L97.45,122.32 L97.62,122.50 L97.78,122.69 L97.94,122.88 L98.11,123.07 L98.27,123.27 L98.44,123.46 L98.60,123.66 L98.76,123.85 L98.93,124.05 L99.09,124.25 L99.26,124.45 L99.42,124.65 L99.59,124.85 L99.75,125.05 L99.91,125.25 L100.08,125.46 L100.24,125.66 L100.41,125.87 L100.57,126.08 L100.73,126.28 L100.90,126.49 L101.06,126.70 L101.23,126.92 L101.39,127.13 L101.56,127.34 L101.72,127.55 L102.29,128.30 L102.86,129.06 L103.43,129.83 L104.00,130.61 L104.56,131.39 L105.13,132.19 L105.70,132.99 L106.27,133.80 L106.84,134.62 L107.41,135.45 L107.98,136.28 L108.55,137.11 L109.11,137.96 L109.68,138.81 L110.25,139.66 L110.82,140.51 L111.39,141.37 L111.96,142.24 L112.53,143.10 L113.10,143.97 L113.67,144.84 L114.23,145.72 L114.80,146.59 L115.37,147.46 L115.94,148.34 L116.51,149.21 L117.08,150.08 L117.65,150.96 L118.22,151.83 L118.78,152.69 L119.35,153.55 L119.92,154.41 L120.49,155.27 L121.06,156.12 L121.63,156.97 L122.20,157.81 L122.77,158.64 L123.34,159.46 L123.90,160.28 L124.47,161.09 L125.04,161.90 L125.61,162.69 L126.18,163.47 L126.75,164.24 L127.32,165.00 L127.89,165.75 L128.45,166.49 L129.02,167.22 L129.59,167.93 L130.16,168.63 L130.73,169.31 L131.30,169.98 L131.87,170.63 L132.44,171.27 L133.01,171.89 L133.57,172.49 L134.14,173.08 L134.71,173.64 L135.28,174.19 L135.85,174.71 L136.42,175.21 L136.99,175.68 L137.56,176.14 L138.13,176.56 L138.69,176.96 L139.26,177.34 L139.83,177.69 L140.40,178.00 L140.97,178.29 L141.54,178.56 L142.11,178.77 L142.68,178.97 L143.24,179.15 L143.81,179.28 L144.38,179.34 L144.95,179.36 L145.52,179.38 L146.09,179.39 L146.66,179.38 L147.23,179.31 L147.80,179.19 L148.36,179.05 L148.93,178.90 L149.50,178.71 L150.07,178.50 L150.64,178.27 L151.21,178.02 L151.78,177.75 L152.35,177.46 L152.91,177.15 L153.48,176.84 L154.05,176.50 L154.62,176.16 L155.19,175.81 L155.76,175.44 L156.33,175.07 L156.90,174.70 L157.47,174.32 L158.03,173.94 L158.60,173.55 L159.17,173.17 L159.74,172.79 L160.31,172.41 L160.88,172.04 L161.45,171.67 L162.02,171.30 L162.58,170.94 L163.15,170.58 L163.72,170.23 L164.29,169.88 L164.86,169.54 L165.43,169.20 L166.00,168.87 L166.57,168.53 L167.14,168.21 L167.70,167.88 L168.27,167.56 L168.84,167.25 L169.41,166.94 L169.98,166.63 L170.55,166.33 L171.12,166.03 L171.69,165.73 L172.25,165.44 L172.82,165.15 L173.39,164.86 L173.96,164.58 L174.53,164.30 L175.10,164.03 L175.67,163.76 L176.24,163.49 L176.81,163.22 L177.37,162.96 L177.94,162.71 L178.51,162.45 L179.08,162.20 L179.65,161.95 L180.22,161.71 L180.79,161.47 L181.36,161.23 L181.92,160.99 L182.49,160.76 L183.06,160.53 L183.63,160.31 L184.20,160.08 L184.77,159.86 L185.34,159.65 L185.91,159.43 L186.48,159.22 L187.04,159.02 L187.61,158.81 L188.18,158.61 L188.75,158.41 L189.32,158.22 L189.89,158.03 L190.46,157.84 L191.03,157.65 L191.60,157.47 L192.16,157.29 L192.73,157.11 L193.30,156.93 L193.87,156.76 L194.44,156.59 L195.01,156.42 L195.58,156.26 L196.15,156.10 L196.71,155.94 L197.28,155.78 L197.85,155.63 L198.42,155.48 L198.99,155.33 L199.56,155.19 L200.13,155.04 L200.70,154.90 L201.27,154.77 L201.83,154.63 L202.40,154.50 L202.97,154.37 L203.54,154.24 L204.11,154.12 L204.68,154.00 L205.25,153.88 L205.82,153.76 L206.38,153.64 L206.95,153.53 L207.52,153.42 L208.09,153.31 L208.66,153.21 L209.23,153.10 L209.80,153.00 L210.37,152.90 L210.94,152.81 L211.50,152.71 L212.07,152.62 L212.64,152.53 L213.21,152.45 L213.78,152.36 L214.35,152.28 L214.92,152.20 L215.49,152.12 L216.05,152.04 L216.62,151.97 L217.19,151.89 L217.76,151.82 L218.33,151.76 L218.90,151.69 L219.47,151.63 L220.04,151.56 L220.61,151.50 L221.17,151.44 L221.74,151.39 L222.31,151.33 L222.88,151.28 L223.45,151.23 L224.02,151.18 L224.59,151.13 L225.16,151.09 L225.72,151.05 L226.29,151.01 L226.86,150.97 L227.43,150.93 L228.00,150.89 L228.57,150.86 L229.14,150.82 L229.71,150.79 L230.28,150.76 L230.84,150.74 L231.41,150.71 L231.98,150.69 L232.55,150.66 L233.12,150.64 L233.69,150.62 L234.26,150.60 L234.83,150.59 L235.39,150.57 L235.96,150.56 L236.53,150.55 L237.10,150.54 L237.67,150.53 L238.24,150.52 L238.81,150.51 L239.38,150.51 L239.95,150.51 L240.51,150.50 L241.08,150.50 L241.65,150.50 L242.22,150.50 L242.79,150.51 L243.36,150.51 L243.93,150.52 L244.50,150.52 L245.07,150.53 L245.63,150.54 L246.20,150.55 L246.77,150.56 L247.34,150.58 L247.91,150.59 L248.48,150.61 L249.05,150.62 L249.62,150.64 L250.18,150.66 L250.75,150.68 L251.32,150.70 L251.89,150.72 L252.46,150.74 L253.03,150.76 L253.60,150.79 L254.17,150.81 L254.74,150.84 L255.30,150.87 L255.87,150.89 L256.44,150.92 L257.01,150.95 L257.58,150.98 L258.15,151.01 L258.72,151.05 L259.29,151.08 L259.85,151.11 L260.42,151.15 L260.99,151.18 L261.56,151.22 L262.13,151.25 L262.70,151.29 L263.27,151.33 L263.84,151.37 L264.41,151.41 L264.97,151.45 L265.54,151.49 L266.11,151.53 L266.68,151.57 L267.25,151.61 L267.82,151.65 L268.39,151.70 L268.96,151.74 L269.52,151.78 L270.09,151.83 L270.66,151.87 L271.23,151.92 L271.80,151.96" fill="none" stroke="#0000ff" stroke-width="1.15" stroke-dasharray="1.06,1.59"/>
<path d="M59.20,31.58 L59.36,32.69 L59.53,33.80 L59.69,34.90 L59.86,36.01 L60.02,37.12 L60.19,38.22 L60.35,39.30 L60.51,40.37 L60.68,41.46 L60.84,42.59 L61.01,43.78 L61.17,45.04 L61.33,46.37 L61.50,47.75 L61.66,49.14 L61.83,50.52 L61.99,51.89 L62.16,53.23 L62.32,54.58 L62.48,55.93 L62.65,57.28 L62.81,58.63 L62.98,59.98 L63.14,61.33 L63.30,62.67 L63.47,64.02 L63.63,65.37 L63.80,66.72 L63.96,68.07 L64.13,69.42 L64.29,70.76 L64.45,72.11 L64.62,73.46 L64.78,74.81 L64.95,76.16 L65.11,77.51 L65.27,78.86 L65.44,80.22 L65.60,81.56 L65.77,82.88 L65.93,84.19 L66.10,85.49 L66.26,86.76 L66.42,87.99 L66.59,89.19 L66.75,90.37 L66.92,91.54 L67.08,92.71 L67.24,93.86 L67.41,95.00 L67.57,96.13 L67.74,97.26 L67.90,98.38 L68.07,99.49 L68.23,100.59 L68.39,101.68 L68.56,102.77 L68.72,103.86 L68.89,104.93 L69.05,106.00 L69.21,107.07 L69.38,108.14 L69.54,109.26 L69.71,110.43 L69.87,111.59 L70.04,112.73 L70.20,113.81 L70.36,114.79 L70.53,115.66 L70.69,116.50 L70.86,117.30 L71.02,118.06 L71.18,118.75 L71.35,119.36 L71.51,119.89 L71.68,120.35 L71.84,120.77 L72.01,121.18 L72.17,121.55 L72.33,121.90 L72.50,122.21 L72.66,122.51 L72.83,122.77 L72.99,123.01 L73.15,123.22 L73.32,123.42 L73.48,123.61 L73.65,123.79 L73.81,123.96 L73.98,124.12 L74.14,124.27 L74.30,124.40 L74.47,124.52 L74.63,124.62 L74.80,124.71 L74.96,124.77 L75.12,124.83 L75.29,124.89 L75.45,124.94 L75.62,124.99 L75.78,125.04 L75.95,125.09 L76.11,125.14 L76.27,125.18 L76.44,125.22 L76.60,125.26 L76.77,125.29 L76.93,125.33 L77.09,125.36 L77.26,125.38 L77.42,125.41 L77.59,125.42 L77.75,125.44 L77.92,125.45 L78.08,125.46 L78.24,125.47 L78.41,125.46 L78.57,125.45 L78.74,125.42 L78.90,125.39 L79.06,125.36 L79.23,125.33 L79.39,125.31 L79.56,125.29 L79.72,125.28 L79.89,125.26 L80.05,125.25 L80.21,125.24 L80.38,125.24 L80.54,125.24 L80.71,125.24 L80.87,125.24 L81.03,125.24 L81.20,125.25 L81.36,125.25 L81.53,125.26 L81.69,125.27 L81.86,125.28 L82.02,125.30 L82.18,125.32 L82.35,125.34 L82.51,125.36 L82.68,125.38 L82.84,125.40 L83.00,125.43 L83.17,125.46 L83.33,125.49 L83.50,125.53 L83.66,125.56 L83.83,125.60 L83.99,125.64 L84.15,125.68 L84.32,125.72 L84.48,125.77 L84.65,125.82 L84.81,125.86 L84.97,125.91 L85.14,125.97 L85.30,126.02 L85.47,126.08 L85.63,126.14 L85.80,126.20 L85.96,126.26 L86.12,126.32 L86.29,126.39 L86.45,126.46 L86.62,126.53 L86.78,126.60 L86.94,126.67 L87.11,126.74 L87.27,126.82 L87.44,126.90 L87.60,126.98 L87.77,127.06 L87.93,127.14 L88.09,127.23 L88.26,127.31 L88.42,127.40 L88.59,127.49 L88.75,127.59 L88.91,127.68 L89.08,127.77 L89.24,127.87 L89.41,127.97 L89.57,128.07 L89.74,128.17 L89.90,128.27 L90.06,128.38 L90.23,128.49 L90.39,128.59 L90.56,128.70 L90.72,128.82 L90.88,128.93 L91.05,129.04 L91.21,129.16 L91.38,129.28 L91.54,129.39 L91.71,129.52 L91.87,129.64 L92.03,129.76 L92.20,129.89 L92.36,130.01 L92.53,130.14 L92.69,130.27 L92.85,130.40 L93.02,130.53 L93.18,130.67 L93.35,130.80 L93.51,130.94 L93.68,131.08 L93.84,131.22 L94.00,131.36 L94.17,131.50 L94.33,131.65 L94.50,131.79 L94.66,131.94 L94.82,132.09 L94.99,132.23 L95.15,132.38 L95.32,132.53 L95.48,132.69 L95.65,132.84 L95.81,133.00 L95.97,133.15 L96.14,133.31 L96.30,133.47 L96.47,133.63 L96.63,133.80 L96.79,133.96 L96.96,134.12 L97.12,134.29 L97.29,134.46 L97.45,134.62 L97.62,134.79 L97.78,134.96 L97.94,135.13 L98.11,135.31 L98.27,135.48 L98.44,135.66 L98.60,135.83 L98.76,136.01 L98.93,136.19 L99.09,136.37 L99.26,136.55 L99.42,136.73 L99.59,136.91 L99.75,137.10 L99.91,137.28 L100.08,137.47 L100.24,137.66 L100.41,137.84 L100.57,138.03 L100.73,138.22 L100.90,138.41 L101.06,138.61 L101.23,138.80 L101.39,138.99 L101.56,139.19 L101.72,139.39 L102.29,140.07 L102.86,140.77 L103.43,141.48 L104.00,142.20 L104.56,142.93 L105.13,143.67 L105.70,144.41 L106.27,145.17 L106.84,145.93 L107.41,146.71 L107.98,147.49 L108.55,148.28 L109.11,149.07 L109.68,149.87 L110.25,150.68 L110.82,151.49 L111.39,152.31 L111.96,153.14 L112.53,153.97 L113.10,154.80 L113.67,155.64 L114.23,156.48 L114.80,157.32 L115.37,158.17 L115.94,159.02 L116.51,159.87 L117.08,160.72 L117.65,161.57 L118.22,162.42 L118.78,163.26 L119.35,164.11 L119.92,164.95 L120.49,165.79 L121.06,166.62 L121.63,167.44 L122.20,168.26 L122.77,169.07 L123.34,169.87 L123.90,170.66 L124.47,171.44 L125.04,172.21 L125.61,172.96 L126.18,173.70 L126.75,174.43 L127.32,175.14 L127.89,175.84 L128.45,176.52 L129.02,177.18 L129.59,177.82 L130.16,178.44 L130.73,179.04 L131.30,179.61 L131.87,180.16 L132.44,180.70 L133.01,181.20 L133.57,181.68 L134.14,182.12 L134.71,182.55 L135.28,182.94 L135.85,183.30 L136.42,183.63 L136.99,183.93 L137.56,184.20 L138.13,184.43 L138.69,184.64 L139.26,184.82 L139.83,184.96 L140.40,185.05 L140.97,185.13 L141.54,185.19 L142.11,185.21 L142.68,185.19 L143.24,185.15 L143.81,185.08 L144.38,185.01 L144.95,184.90 L145.52,184.75 L146.09,184.58 L146.66,184.41 L147.23,184.20 L147.80,183.97 L148.36,183.73 L148.93,183.47 L149.50,183.19 L150.07,182.89 L150.64,182.58 L151.21,182.26 L151.78,181.92 L152.35,181.57 L152.91,181.22 L153.48,180.85 L154.05,180.47 L154.62,180.08 L155.19,179.69 L155.76,179.29 L156.33,178.88 L156.90,178.47 L157.47,178.05 L158.03,177.63 L158.60,177.21 L159.17,176.79 L159.74,176.36 L160.31,175.94 L160.88,175.51 L161.45,175.09 L162.02,174.67 L162.58,174.25 L163.15,173.83 L163.72,173.42 L164.29,173.01 L164.86,172.61 L165.43,172.22 L166.00,171.84 L166.57,171.46 L167.14,171.08 L167.70,170.72 L168.27,170.36 L168.84,170.01 L169.41,169.67 L169.98,169.33 L170.55,169.00 L171.12,168.67 L171.69,168.35 L172.25,168.04 L172.82,167.73 L173.39,167.43 L173.96,167.14 L174.53,166.85 L175.10,166.56 L175.67,166.29 L176.24,166.01 L176.81,165.74 L177.37,165.48 L177.94,165.22 L178.51,164.97 L179.08,164.72 L179.65,164.48 L180.22,164.24 L180.79,164.00 L181.36,163.77 L181.92,163.55 L182.49,163.33 L183.06,163.11 L183.63,162.89 L184.20,162.68 L184.77,162.48 L185.34,162.27 L185.91,162.07 L186.48,161.88 L187.04,161.68 L187.61,161.49 L188.18,161.30 L188.75,161.12 L189.32,160.94 L189.89,160.76 L190.46,160.58 L191.03,160.41 L191.60,160.24 L192.16,160.07 L192.73,159.90 L193.30,159.73 L193.87,159.57 L194.44,159.41 L195.01,159.25 L195.58,159.09 L196.15,158.94 L196.71,158.78 L197.28,158.63 L197.85,158.49 L198.42,158.34 L198.99,158.19 L199.56,158.05 L200.13,157.91 L200.70,157.77 L201.27,157.64 L201.83,157.50 L202.40,157.37 L202.97,157.24 L203.54,157.11 L204.11,156.98 L204.68,156.86 L205.25,156.74 L205.82,156.62 L206.38,156.50 L206.95,156.38 L207.52,156.27 L208.09,156.16 L208.66,156.04 L209.23,155.94 L209.80,155.83 L210.37,155.72 L210.94,155.62 L211.50,155.52 L212.07,155.42 L212.64,155.32 L213.21,155.23 L213.78,155.13 L214.35,155.04 L214.92,154.95 L215.49,154.86 L216.05,154.78 L216.62,154.69 L217.19,154.61 L217.76,154.53 L218.33,154.45 L218.90,154.38 L219.47,154.30 L220.04,154.23 L220.61,154.15 L221.17,154.09 L221.74,154.02 L222.31,153.95 L222.88,153.89 L223.45,153.82 L224.02,153.76 L224.59,153.70 L225.16,153.64 L225.72,153.59 L226.29,153.53 L226.86,153.48 L227.43,153.43 L228.00,153.38 L228.57,153.33 L229.14,153.29 L229.71,153.24 L230.28,153.20 L230.84,153.16 L231.41,153.12 L231.98,153.09 L232.55,153.05 L233.12,153.01 L233.69,152.98 L234.26,152.95 L234.83,152.92 L235.39,152.89 L235.96,152.87 L236.53,152.84 L237.10,152.82 L237.67,152.80 L238.24,152.78 L238.81,152.76 L239.38,152.74 L239.95,152.73 L240.51,152.71 L241.08,152.70 L241.65,152.69 L242.22,152.68 L242.79,152.67 L243.36,152.67 L243.93,152.66 L244.50,152.66 L245.07,152.66 L245.63,152.66 L246.20,152.66 L246.77,152.66 L247.34,152.67 L247.91,152.67 L248.48,152.68 L249.05,152.69 L249.62,152.70 L250.18,152.71 L250.75,152.72 L251.32,152.73 L251.89,152.75 L252.46,152.77 L253.03,152.79 L253.60,152.80 L254.17,152.83 L254.74,152.85 L255.30,152.87 L255.87,152.90 L256.44,152.92 L257.01,152.95 L257.58,152.98 L258.15,153.01 L258.72,153.04 L259.29,153.07 L259.85,153.11 L260.42,153.14 L260.99,153.18 L261.56,153.22 L262.13,153.26 L262.70,153.30 L263.27,153.34 L263.84,153.38 L264.41,153.43 L264.97,153.47 L265.54,153.52 L266.11,153.57 L266.68,153.62 L267.25,153.67 L267.82,153.72 L268.39,153.77 L268.96,153.82 L269.52,153.88 L270.09,153.93 L270.66,153.99 L271.23,154.05 L271.80,154.11" fill="none" stroke="#ff00ff" stroke-width="1.15" stroke-dasharray="0.53,0.80"/>
<path d="M59.20,31.58 L59.36,32.69 L59.53,33.80 L59.69,34.90 L59.86,36.01 L60.02,37.12 L60.19,38.22 L60.35,39.30 L60.51,40.37 L60.68,41.46 L60.84,42.59 L61.01,43.78 L61.17,45.04 L61.33,46.37 L61.50,47.75 L61.66,49.14 L61.83,50.52 L61.99,51.89 L62.16,53.23 L62.32,54.58 L62.48,55.93 L62.65,57.28 L62.81,58.63 L62.98,59.98 L63.14,61.33 L63.30,62.67 L63.47,64.02 L63.63,65.37 L63.80,66.72 L63.96,68.07 L64.13,69.42 L64.29,70.76 L64.45,72.11 L64.62,73.46 L64.78,74.81 L64.95,76.16 L65.11,77.51 L65.27,78.86 L65.44,80.20 L65.60,81.55 L65.77,82.90 L65.93,84.25 L66.10,85.60 L66.26,86.95 L66.42,88.30 L66.59,89.65 L66.75,90.99 L66.92,92.34 L67.08,93.70 L67.24,95.05 L67.41,96.37 L67.57,97.65 L67.74,98.89 L67.90,100.11 L68.07,101.31 L68.23,102.50 L68.39,103.67 L68.56,104.83 L68.72,105.98 L68.89,107.12 L69.05,108.26 L69.21,109.38 L69.38,110.50 L69.54,111.61 L69.71,112.71 L69.87,113.80 L70.04,114.89 L70.20,115.97 L70.36,117.05 L70.53,118.13 L70.69,119.20 L70.86,120.25 L71.02,121.31 L71.18,122.39 L71.35,123.47 L71.51,124.53 L71.68,125.55 L71.84,126.53 L72.01,127.45 L72.17,128.30 L72.33,129.10 L72.50,129.86 L72.66,130.57 L72.83,131.25 L72.99,131.88 L73.15,132.48 L73.32,133.04 L73.48,133.57 L73.65,134.06 L73.81,134.54 L73.98,135.00 L74.14,135.45 L74.30,135.88 L74.47,136.28 L74.63,136.64 L74.80,136.95 L74.96,137.25 L75.12,137.54 L75.29,137.79 L75.45,138.02 L75.62,138.22 L75.78,138.37 L75.95,138.53 L76.11,138.67 L76.27,138.82 L76.44,138.95 L76.60,139.08 L76.77,139.19 L76.93,139.29 L77.09,139.37 L77.26,139.44 L77.42,139.48 L77.59,139.50 L77.75,139.50 L77.92,139.49 L78.08,139.47 L78.24,139.44 L78.41,139.41 L78.57,139.37 L78.74,139.33 L78.90,139.29 L79.06,139.24 L79.23,139.20 L79.39,139.16 L79.56,139.12 L79.72,139.08 L79.89,139.05 L80.05,139.02 L80.21,139.01 L80.38,139.00 L80.54,139.00 L80.71,139.03 L80.87,139.09 L81.03,139.16 L81.20,139.24 L81.36,139.32 L81.53,139.38 L81.69,139.43 L81.86,139.48 L82.02,139.53 L82.18,139.57 L82.35,139.62 L82.51,139.66 L82.68,139.70 L82.84,139.74 L83.00,139.78 L83.17,139.81 L83.33,139.85 L83.50,139.89 L83.66,139.92 L83.83,139.96 L83.99,139.99 L84.15,140.02 L84.32,140.05 L84.48,140.08 L84.65,140.12 L84.81,140.15 L84.97,140.18 L85.14,140.21 L85.30,140.24 L85.47,140.27 L85.63,140.30 L85.80,140.34 L85.96,140.37 L86.12,140.40 L86.29,140.44 L86.45,140.47 L86.62,140.51 L86.78,140.54 L86.94,140.58 L87.11,140.62 L87.27,140.66 L87.44,140.70 L87.60,140.74 L87.77,140.79 L87.93,140.83 L88.09,140.88 L88.26,140.93 L88.42,140.98 L88.59,141.03 L88.75,141.09 L88.91,141.15 L89.08,141.21 L89.24,141.27 L89.41,141.33 L89.57,141.40 L89.74,141.47 L89.90,141.54 L90.06,141.62 L90.23,141.69 L90.39,141.78 L90.56,141.86 L90.72,141.95 L90.88,142.04 L91.05,142.13 L91.21,142.23 L91.38,142.33 L91.54,142.44 L91.71,142.54 L91.87,142.66 L92.03,142.77 L92.20,142.89 L92.36,143.01 L92.53,143.13 L92.69,143.26 L92.85,143.39 L93.02,143.52 L93.18,143.66 L93.35,143.80 L93.51,143.94 L93.68,144.09 L93.84,144.24 L94.00,144.39 L94.17,144.55 L94.33,144.70 L94.50,144.86 L94.66,145.02 L94.82,145.18 L94.99,145.35 L95.15,145.52 L95.32,145.69 L95.48,145.86 L95.65,146.03 L95.81,146.21 L95.97,146.39 L96.14,146.57 L96.30,146.76 L96.47,146.95 L96.63,147.14 L96.79,147.33 L96.96,147.52 L97.12,147.72 L97.29,147.91 L97.45,148.11 L97.62,148.31 L97.78,148.51 L97.94,148.71 L98.11,148.92 L98.27,149.12 L98.44,149.33 L98.60,149.54 L98.76,149.75 L98.93,149.97 L99.09,150.18 L99.26,150.40 L99.42,150.61 L99.59,150.83 L99.75,151.05 L99.91,151.27 L100.08,151.49 L100.24,151.71 L100.41,151.93 L100.57,152.16 L100.73,152.38 L100.90,152.61 L101.06,152.84 L101.23,153.06 L101.39,153.29 L101.56,153.52 L101.72,153.75 L102.29,154.55 L102.86,155.35 L103.43,156.16 L104.00,156.97 L104.56,157.77 L105.13,158.58 L105.70,159.38 L106.27,160.18 L106.84,160.97 L107.41,161.76 L107.98,162.54 L108.55,163.32 L109.11,164.09 L109.68,164.86 L110.25,165.63 L110.82,166.39 L111.39,167.14 L111.96,167.89 L112.53,168.64 L113.10,169.38 L113.67,170.12 L114.23,170.85 L114.80,171.58 L115.37,172.30 L115.94,173.02 L116.51,173.74 L117.08,174.45 L117.65,175.15 L118.22,175.86 L118.78,176.56 L119.35,177.25 L119.92,177.94 L120.49,178.63 L121.06,179.31 L121.63,179.99 L122.20,180.67 L122.77,181.34 L123.34,182.01 L123.90,182.67 L124.47,183.33 L125.04,183.98 L125.61,184.61 L126.18,185.23 L126.75,185.82 L127.32,186.38 L127.89,186.91 L128.45,187.41 L129.02,187.88 L129.59,188.30 L130.16,188.70 L130.73,189.06 L131.30,189.39 L131.87,189.67 L132.44,189.94 L133.01,190.17 L133.57,190.36 L134.14,190.53 L134.71,190.68 L135.28,190.80 L135.85,190.86 L136.42,190.91 L136.99,190.94 L137.56,190.96 L138.13,190.96 L138.69,190.91 L139.26,190.84 L139.83,190.75 L140.40,190.65 L140.97,190.52 L141.54,190.37 L142.11,190.20 L142.68,190.01 L143.24,189.80 L143.81,189.58 L144.38,189.34 L144.95,189.08 L145.52,188.81 L146.09,188.52 L146.66,188.22 L147.23,187.91 L147.80,187.58 L148.36,187.24 L148.93,186.89 L149.50,186.53 L150.07,186.16 L150.64,185.79 L151.21,185.40 L151.78,185.00 L152.35,184.60 L152.91,184.20 L153.48,183.78 L154.05,183.37 L154.62,182.94 L155.19,182.52 L155.76,182.09 L156.33,181.66 L156.90,181.23 L157.47,180.80 L158.03,180.37 L158.60,179.94 L159.17,179.52 L159.74,179.09 L160.31,178.67 L160.88,178.25 L161.45,177.84 L162.02,177.43 L162.58,177.02 L163.15,176.62 L163.72,176.22 L164.29,175.83 L164.86,175.45 L165.43,175.07 L166.00,174.70 L166.57,174.34 L167.14,173.98 L167.70,173.62 L168.27,173.28 L168.84,172.94 L169.41,172.60 L169.98,172.27 L170.55,171.95 L171.12,171.63 L171.69,171.32 L172.25,171.01 L172.82,170.71 L173.39,170.41 L173.96,170.12 L174.53,169.84 L175.10,169.56 L175.67,169.28 L176.24,169.01 L176.81,168.74 L177.37,168.48 L177.94,168.22 L178.51,167.97 L179.08,167.72 L179.65,167.48 L180.22,167.24 L180.79,167.00 L181.36,166.77 L181.92,166.54 L182.49,166.31 L183.06,166.09 L183.63,165.88 L184.20,165.66 L184.77,165.45 L185.34,165.25 L185.91,165.04 L186.48,164.84 L187.04,164.64 L187.61,164.45 L188.18,164.26 L188.75,164.07 L189.32,163.89 L189.89,163.70 L190.46,163.52 L191.03,163.34 L191.60,163.17 L192.16,163.00 L192.73,162.82 L193.30,162.66 L193.87,162.49 L194.44,162.33 L195.01,162.16 L195.58,162.00 L196.15,161.85 L196.71,161.69 L197.28,161.54 L197.85,161.39 L198.42,161.24 L198.99,161.09 L199.56,160.95 L200.13,160.80 L200.70,160.66 L201.27,160.53 L201.83,160.39 L202.40,160.26 L202.97,160.13 L203.54,160.00 L204.11,159.87 L204.68,159.74 L205.25,159.62 L205.82,159.50 L206.38,159.38 L206.95,159.26 L207.52,159.15 L208.09,159.03 L208.66,158.92 L209.23,158.81 L209.80,158.70 L210.37,158.60 L210.94,158.50 L211.50,158.39 L212.07,158.30 L212.64,158.20 L213.21,158.10 L213.78,158.01 L214.35,157.92 L214.92,157.83 L215.49,157.74 L216.05,157.65 L216.62,157.57 L217.19,157.49 L217.76,157.41 L218.33,157.33 L218.90,157.25 L219.47,157.18 L220.04,157.10 L220.61,157.03 L221.17,156.96 L221.74,156.90 L222.31,156.83 L222.88,156.77 L223.45,156.70 L224.02,156.64 L224.59,156.58 L225.16,156.53 L225.72,156.47 L226.29,156.42 L226.86,156.37 L227.43,156.32 L228.00,156.27 L228.57,156.22 L229.14,156.18 L229.71,156.13 L230.28,156.09 L230.84,156.05 L231.41,156.01 L231.98,155.97 L232.55,155.94 L233.12,155.91 L233.69,155.87 L234.26,155.84 L234.83,155.81 L235.39,155.79 L235.96,155.76 L236.53,155.74 L237.10,155.71 L237.67,155.69 L238.24,155.67 L238.81,155.66 L239.38,155.64 L239.95,155.62 L240.51,155.61 L241.08,155.60 L241.65,155.59 L242.22,155.58 L242.79,155.57 L243.36,155.56 L243.93,155.56 L244.50,155.56 L245.07,155.56 L245.63,155.55 L246.20,155.55 L246.77,155.56 L247.34,155.56 L247.91,155.57 L248.48,155.57 L249.05,155.58 L249.62,155.59 L250.18,155.60 L250.75,155.61 L251.32,155.62 L251.89,155.64 L252.46,155.65 L253.03,155.67 L253.60,155.69 L254.17,155.71 L254.74,155.73 L255.30,155.75 L255.87,155.77 L256.44,155.80 L257.01,155.82 L257.58,155.85 L258.15,155.88 L258.72,155.91 L259.29,155.94 L259.85,155.97 L260.42,156.00 L260.99,156.04 L261.56,156.07 L262.13,156.11 L262.70,156.15 L263.27,156.18 L263.84,156.22 L264.41,156.26 L264.97,156.31 L265.54,156.35 L266.11,156.39 L266.68,156.44 L267.25,156.48 L267.82,156.53 L268.39,156.58 L268.96,156.63 L269.52,156.68 L270.09,156.73 L270.66,156.78 L271.23,156.84 L271.80,156.89" fill="none" stroke="#00ffff" stroke-width="1.15" stroke-dasharray="3.18,1.06,0.53,1.06"/>
<path d="M59.20,31.58 L59.36,32.69 L59.53,33.80 L59.69,34.90 L59.86,36.01 L60.02,37.12 L60.19,38.22 L60.35,39.30 L60.51,40.37 L60.68,41.46 L60.84,42.59 L61.01,43.78 L61.17,45.04 L61.33,46.37 L61.50,47.75 L61.66,49.14 L61.83,50.52 L61.99,51.89 L62.16,53.23 L62.32,54.58 L62.48,55.93 L62.65,57.28 L62.81,58.63 L62.98,59.98 L63.14,61.33 L63.30,62.67 L63.47,64.02 L63.63,65.37 L63.80,66.72 L63.96,68.07 L64.13,69.42 L64.29,70.76 L64.45,72.11 L64.62,73.46 L64.78,74.81 L64.95,76.16 L65.11,77.51 L65.27,78.86 L65.44,80.20 L65.60,81.55 L65.77,82.90 L65.93,84.25 L66.10,85.60 L66.26,86.95 L66.42,88.29 L66.59,89.64 L66.75,90.99 L66.92,92.34 L67.08,93.69 L67.24,95.04 L67.41,96.39 L67.57,97.73 L67.74,99.08 L67.90,100.43 L68.07,101.78 L68.23,103.13 L68.39,104.49 L68.56,105.84 L68.72,107.17 L68.89,108.47 L69.05,109.77 L69.21,111.04 L69.38,112.30 L69.54,113.53 L69.71,114.74 L69.87,115.94 L70.04,117.13 L70.20,118.32 L70.36,119.49 L70.53,120.66 L70.69,121.82 L70.86,122.97 L71.02,124.12 L71.18,125.26 L71.35,126.40 L71.51,127.53 L71.68,128.66 L71.84,129.79 L72.01,130.90 L72.17,132.00 L72.33,133.08 L72.50,134.18 L72.66,135.27 L72.83,136.34 L72.99,137.39 L73.15,138.39 L73.32,139.34 L73.48,140.23 L73.65,141.07 L73.81,141.89 L73.98,142.68 L74.14,143.43 L74.30,144.15 L74.47,144.84 L74.63,145.48 L74.80,146.08 L74.96,146.64 L75.12,147.17 L75.29,147.66 L75.45,148.13 L75.62,148.59 L75.78,149.03 L75.95,149.46 L76.11,149.86 L76.27,150.20 L76.44,150.47 L76.60,150.74 L76.77,150.99 L76.93,151.23 L77.09,151.45 L77.26,151.67 L77.42,151.86 L77.59,152.04 L77.75,152.20 L77.92,152.35 L78.08,152.47 L78.24,152.57 L78.41,152.65 L78.57,152.73 L78.74,152.81 L78.90,152.89 L79.06,152.96 L79.23,153.03 L79.39,153.09 L79.56,153.16 L79.72,153.22 L79.89,153.27 L80.05,153.32 L80.21,153.37 L80.38,153.41 L80.54,153.45 L80.71,153.48 L80.87,153.51 L81.03,153.54 L81.20,153.55 L81.36,153.57 L81.53,153.57 L81.69,153.58 L81.86,153.58 L82.02,153.58 L82.18,153.58 L82.35,153.59 L82.51,153.59 L82.68,153.60 L82.84,153.61 L83.00,153.62 L83.17,153.64 L83.33,153.66 L83.50,153.69 L83.66,153.71 L83.83,153.73 L83.99,153.76 L84.15,153.79 L84.32,153.83 L84.48,153.86 L84.65,153.90 L84.81,153.94 L84.97,153.98 L85.14,154.02 L85.30,154.07 L85.47,154.11 L85.63,154.16 L85.80,154.22 L85.96,154.27 L86.12,154.32 L86.29,154.38 L86.45,154.44 L86.62,154.50 L86.78,154.56 L86.94,154.63 L87.11,154.70 L87.27,154.76 L87.44,154.84 L87.60,154.91 L87.77,154.98 L87.93,155.06 L88.09,155.13 L88.26,155.21 L88.42,155.30 L88.59,155.38 L88.75,155.46 L88.91,155.55 L89.08,155.64 L89.24,155.73 L89.41,155.82 L89.57,155.91 L89.74,156.01 L89.90,156.10 L90.06,156.20 L90.23,156.30 L90.39,156.40 L90.56,156.50 L90.72,156.61 L90.88,156.71 L91.05,156.82 L91.21,156.93 L91.38,157.04 L91.54,157.15 L91.71,157.26 L91.87,157.37 L92.03,157.49 L92.20,157.61 L92.36,157.72 L92.53,157.84 L92.69,157.96 L92.85,158.08 L93.02,158.21 L93.18,158.33 L93.35,158.46 L93.51,158.59 L93.68,158.71 L93.84,158.84 L94.00,158.98 L94.17,159.11 L94.33,159.24 L94.50,159.37 L94.66,159.51 L94.82,159.64 L94.99,159.78 L95.15,159.92 L95.32,160.06 L95.48,160.20 L95.65,160.34 L95.81,160.48 L95.97,160.62 L96.14,160.77 L96.30,160.91 L96.47,161.06 L96.63,161.21 L96.79,161.36 L96.96,161.51 L97.12,161.66 L97.29,161.81 L97.45,161.96 L97.62,162.12 L97.78,162.27 L97.94,162.42 L98.11,162.58 L98.27,162.74 L98.44,162.90 L98.60,163.06 L98.76,163.22 L98.93,163.38 L99.09,163.54 L99.26,163.70 L99.42,163.86 L99.59,164.03 L99.75,164.19 L99.91,164.36 L100.08,164.52 L100.24,164.69 L100.41,164.86 L100.57,165.03 L100.73,165.20 L100.90,165.37 L101.06,165.54 L101.23,165.71 L101.39,165.88 L101.56,166.06 L101.72,166.23 L102.29,166.84 L102.86,167.45 L103.43,168.08 L104.00,168.71 L104.56,169.35 L105.13,169.99 L105.70,170.64 L106.27,171.30 L106.84,171.96 L107.41,172.63 L107.98,173.30 L108.55,173.97 L109.11,174.65 L109.68,175.33 L110.25,176.02 L110.82,176.70 L111.39,177.39 L111.96,178.09 L112.53,178.78 L113.10,179.47 L113.67,180.17 L114.23,180.86 L114.80,181.56 L115.37,182.25 L115.94,182.95 L116.51,183.64 L117.08,184.33 L117.65,185.02 L118.22,185.71 L118.78,186.39 L119.35,187.07 L119.92,187.75 L120.49,188.42 L121.06,189.08 L121.63,189.74 L122.20,190.39 L122.77,191.03 L123.34,191.65 L123.90,192.25 L124.47,192.84 L125.04,193.39 L125.61,193.92 L126.18,194.43 L126.75,194.91 L127.32,195.34 L127.89,195.74 L128.45,196.12 L129.02,196.45 L129.59,196.71 L130.16,196.95 L130.73,197.16 L131.30,197.30 L131.87,197.36 L132.44,197.41 L133.01,197.44 L133.57,197.45 L134.14,197.41 L134.71,197.32 L135.28,197.19 L135.85,197.05 L136.42,196.88 L136.99,196.68 L137.56,196.45 L138.13,196.21 L138.69,195.95 L139.26,195.66 L139.83,195.36 L140.40,195.06 L140.97,194.73 L141.54,194.40 L142.11,194.06 L142.68,193.72 L143.24,193.37 L143.81,193.02 L144.38,192.66 L144.95,192.30 L145.52,191.94 L146.09,191.57 L146.66,191.21 L147.23,190.84 L147.80,190.47 L148.36,190.09 L148.93,189.72 L149.50,189.34 L150.07,188.96 L150.64,188.58 L151.21,188.19 L151.78,187.81 L152.35,187.42 L152.91,187.03 L153.48,186.64 L154.05,186.25 L154.62,185.86 L155.19,185.47 L155.76,185.08 L156.33,184.69 L156.90,184.30 L157.47,183.90 L158.03,183.51 L158.60,183.12 L159.17,182.72 L159.74,182.33 L160.31,181.94 L160.88,181.55 L161.45,181.16 L162.02,180.77 L162.58,180.38 L163.15,179.99 L163.72,179.61 L164.29,179.22 L164.86,178.84 L165.43,178.46 L166.00,178.08 L166.57,177.70 L167.14,177.32 L167.70,176.95 L168.27,176.58 L168.84,176.21 L169.41,175.84 L169.98,175.48 L170.55,175.12 L171.12,174.76 L171.69,174.40 L172.25,174.05 L172.82,173.70 L173.39,173.36 L173.96,173.02 L174.53,172.68 L175.10,172.35 L175.67,172.02 L176.24,171.69 L176.81,171.37 L177.37,171.05 L177.94,170.74 L178.51,170.43 L179.08,170.13 L179.65,169.83 L180.22,169.54 L180.79,169.25 L181.36,168.97 L181.92,168.69 L182.49,168.42 L183.06,168.15 L183.63,167.89 L184.20,167.64 L184.77,167.39 L185.34,167.15 L185.91,166.91 L186.48,166.68 L187.04,166.46 L187.61,166.24 L188.18,166.04 L188.75,165.83 L189.32,165.64 L189.89,165.45 L190.46,165.27 L191.03,165.10 L191.60,164.94 L192.16,164.78 L192.73,164.63 L193.30,164.49 L193.87,164.35 L194.44,164.22 L195.01,164.10 L195.58,163.98 L196.15,163.87 L196.71,163.77 L197.28,163.67 L197.85,163.57 L198.42,163.48 L198.99,163.40 L199.56,163.31 L200.13,163.23 L200.70,163.16 L201.27,163.08 L201.83,163.01 L202.40,162.94 L202.97,162.87 L203.54,162.81 L204.11,162.74 L204.68,162.68 L205.25,162.61 L205.82,162.55 L206.38,162.48 L206.95,162.42 L207.52,162.35 L208.09,162.28 L208.66,162.21 L209.23,162.14 L209.80,162.07 L210.37,161.99 L210.94,161.91 L211.50,161.83 L212.07,161.75 L212.64,161.66 L213.21,161.56 L213.78,161.46 L214.35,161.36 L214.92,161.25 L215.49,161.14 L216.05,161.02 L216.62,160.90 L217.19,160.77 L217.76,160.65 L218.33,160.51 L218.90,160.38 L219.47,160.25 L220.04,160.11 L220.61,159.97 L221.17,159.84 L221.74,159.70 L222.31,159.56 L222.88,159.43 L223.45,159.30 L224.02,159.17 L224.59,159.04 L225.16,158.91 L225.72,158.79 L226.29,158.67 L226.86,158.56 L227.43,158.45 L228.00,158.35 L228.57,158.25 L229.14,158.16 L229.71,158.07 L230.28,157.99 L230.84,157.92 L231.41,157.86 L231.98,157.80 L232.55,157.74 L233.12,157.69 L233.69,157.65 L234.26,157.62 L234.83,157.59 L235.39,157.56 L235.96,157.54 L236.53,157.53 L237.10,157.52 L237.67,157.51 L238.24,157.51 L238.81,157.52 L239.38,157.52 L239.95,157.53 L240.51,157.54 L241.08,157.56 L241.65,157.59 L242.22,157.61 L242.79,157.64 L243.36,157.67 L243.93,157.71 L244.50,157.74 L245.07,157.79 L245.63,157.83 L246.20,157.87 L246.77,157.92 L247.34,157.97 L247.91,158.02 L248.48,158.07 L249.05,158.13 L249.62,158.18 L250.18,158.24 L250.75,158.30 L251.32,158.35 L251.89,158.41 L252.46,158.47 L253.03,158.53 L253.60,158.59 L254.17,158.65 L254.74,158.71 L255.30,158.77 L255.87,158.83 L256.44,158.89 L257.01,158.95 L257.58,159.01 L258.15,159.06 L258.72,159.12 L259.29,159.17 L259.85,159.23 L260.42,159.28 L260.99,159.33 L261.56,159.37 L262.13,159.42 L262.70,159.46 L263.27,159.50 L263.84,159.54 L264.41,159.58 L264.97,159.61 L265.54,159.64 L266.11,159.66 L266.68,159.69 L267.25,159.70 L267.82,159.72 L268.39,159.73 L268.96,159.74 L269.52,159.74 L270.09,159.74 L270.66,159.73 L271.23,159.72 L271.80,159.71" fill="none" stroke="#ffff00" stroke-width="1.15" stroke-dasharray="1.59,1.59,0.53,1.59"/>
<path d="M59.20,31.58 L59.36,32.93 L59.53,34.28 L59.69,35.63 L59.86,36.98 L60.02,38.32 L60.19,39.67 L60.35,41.02 L60.51,42.37 L60.68,43.72 L60.84,45.07 L61.01,46.41 L61.17,47.76 L61.33,49.11 L61.50,50.46 L61.66,51.81 L61.83,53.16 L61.99,54.51 L62.16,55.85 L62.32,57.20 L62.48,58.55 L62.65,59.90 L62.81,61.25 L62.98,62.60 L63.14,63.94 L63.30,65.29 L63.47,66.64 L63.63,67.99 L63.80,69.34 L63.96,70.69 L64.13,72.04 L64.29,73.38 L64.45,74.73 L64.62,76.08 L64.78,77.43 L64.95,78.78 L65.11,80.13 L65.27,81.47 L65.44,82.82 L65.60,84.17 L65.77,85.52 L65.93,86.87 L66.10,88.22 L66.26,89.57 L66.42,90.91 L66.59,92.26 L66.75,93.61 L66.92,94.96 L67.08,96.31 L67.24,97.66 L67.41,99.00 L67.57,100.35 L67.74,101.70 L67.90,103.05 L68.07,104.40 L68.23,105.75 L68.39,107.10 L68.56,108.44 L68.72,109.79 L68.89,111.14 L69.05,112.49 L69.21,113.84 L69.38,115.19 L69.54,116.53 L69.71,117.88 L69.87,119.23 L70.04,120.58 L70.20,121.93 L70.36,123.28 L70.53,124.62 L70.69,125.97 L70.86,127.32 L71.02,128.67 L71.18,130.02 L71.35,131.37 L71.51,132.73 L71.68,134.13 L71.84,135.47 L72.01,136.65 L72.17,137.73 L72.33,138.74 L72.50,139.71 L72.66,140.64 L72.83,141.56 L72.99,142.50 L73.15,143.46 L73.32,144.47 L73.48,145.55 L73.65,146.76 L73.81,148.02 L73.98,149.28 L74.14,150.48 L74.30,151.54 L74.47,152.41 L74.63,153.17 L74.80,153.87 L74.96,154.52 L75.12,155.13 L75.29,155.71 L75.45,156.29 L75.62,156.88 L75.78,157.48 L75.95,158.10 L76.11,158.72 L76.27,159.33 L76.44,159.93 L76.60,160.50 L76.77,161.04 L76.93,161.53 L77.09,161.99 L77.26,162.43 L77.42,162.86 L77.59,163.28 L77.75,163.68 L77.92,164.06 L78.08,164.41 L78.24,164.73 L78.41,165.02 L78.57,165.27 L78.74,165.50 L78.90,165.71 L79.06,165.91 L79.23,166.11 L79.39,166.29 L79.56,166.47 L79.72,166.64 L79.89,166.79 L80.05,166.93 L80.21,167.07 L80.38,167.19 L80.54,167.30 L80.71,167.40 L80.87,167.49 L81.03,167.57 L81.20,167.65 L81.36,167.73 L81.53,167.80 L81.69,167.88 L81.86,167.95 L82.02,168.02 L82.18,168.09 L82.35,168.16 L82.51,168.22 L82.68,168.28 L82.84,168.34 L83.00,168.39 L83.17,168.44 L83.33,168.49 L83.50,168.53 L83.66,168.56 L83.83,168.60 L83.99,168.62 L84.15,168.65 L84.32,168.66 L84.48,168.67 L84.65,168.68 L84.81,168.68 L84.97,168.68 L85.14,168.67 L85.30,168.67 L85.47,168.66 L85.63,168.66 L85.80,168.66 L85.96,168.66 L86.12,168.68 L86.29,168.69 L86.45,168.72 L86.62,168.74 L86.78,168.77 L86.94,168.79 L87.11,168.82 L87.27,168.86 L87.44,168.90 L87.60,168.94 L87.77,168.98 L87.93,169.03 L88.09,169.08 L88.26,169.13 L88.42,169.18 L88.59,169.24 L88.75,169.30 L88.91,169.37 L89.08,169.43 L89.24,169.50 L89.41,169.57 L89.57,169.65 L89.74,169.73 L89.90,169.81 L90.06,169.89 L90.23,169.97 L90.39,170.06 L90.56,170.15 L90.72,170.24 L90.88,170.34 L91.05,170.44 L91.21,170.54 L91.38,170.64 L91.54,170.74 L91.71,170.85 L91.87,170.96 L92.03,171.07 L92.20,171.18 L92.36,171.30 L92.53,171.42 L92.69,171.54 L92.85,171.66 L93.02,171.78 L93.18,171.91 L93.35,172.04 L93.51,172.17 L93.68,172.30 L93.84,172.44 L94.00,172.58 L94.17,172.71 L94.33,172.85 L94.50,173.00 L94.66,173.14 L94.82,173.28 L94.99,173.43 L95.15,173.58 L95.32,173.73 L95.48,173.88 L95.65,174.03 L95.81,174.19 L95.97,174.35 L96.14,174.51 L96.30,174.67 L96.47,174.83 L96.63,174.99 L96.79,175.16 L96.96,175.33 L97.12,175.49 L97.29,175.66 L97.45,175.83 L97.62,176.00 L97.78,176.18 L97.94,176.35 L98.11,176.53 L98.27,176.70 L98.44,176.88 L98.60,177.06 L98.76,177.24 L98.93,177.42 L99.09,177.61 L99.26,177.79 L99.42,177.98 L99.59,178.16 L99.75,178.35 L99.91,178.53 L100.08,178.72 L100.24,178.91 L100.41,179.10 L100.57,179.29 L100.73,179.49 L100.90,179.68 L101.06,179.87 L101.23,180.07 L101.39,180.26 L101.56,180.46 L101.72,180.65 L102.29,181.34 L102.86,182.03 L103.43,182.73 L104.00,183.42 L104.56,184.13 L105.13,184.83 L105.70,185.54 L106.27,186.24 L106.84,186.95 L107.41,187.65 L107.98,188.34 L108.55,189.03 L109.11,189.72 L109.68,190.40 L110.25,191.07 L110.82,191.73 L111.39,192.38 L111.96,193.02 L112.53,193.65 L113.10,194.27 L113.67,194.88 L114.23,195.47 L114.80,196.05 L115.37,196.62 L115.94,197.18 L116.51,197.71 L117.08,198.23 L117.65,198.74 L118.22,199.23 L118.78,199.70 L119.35,200.15 L119.92,200.58 L120.49,201.00 L121.06,201.39 L121.63,201.76 L122.20,202.11 L122.77,202.44 L123.34,202.74 L123.90,203.02 L124.47,203.29 L125.04,203.52 L125.61,203.72 L126.18,203.91 L126.75,204.07 L127.32,204.18 L127.89,204.27 L128.45,204.35 L129.02,204.40 L129.59,204.40 L130.16,204.37 L130.73,204.32 L131.30,204.25 L131.87,204.16 L132.44,204.02 L133.01,203.85 L133.57,203.66 L134.14,203.45 L134.71,203.21 L135.28,202.95 L135.85,202.67 L136.42,202.37 L136.99,202.05 L137.56,201.71 L138.13,201.36 L138.69,200.99 L139.26,200.61 L139.83,200.21 L140.40,199.80 L140.97,199.38 L141.54,198.95 L142.11,198.52 L142.68,198.07 L143.24,197.62 L143.81,197.16 L144.38,196.70 L144.95,196.24 L145.52,195.77 L146.09,195.31 L146.66,194.84 L147.23,194.38 L147.80,193.91 L148.36,193.45 L148.93,192.99 L149.50,192.54 L150.07,192.08 L150.64,191.63 L151.21,191.18 L151.78,190.73 L152.35,190.29 L152.91,189.84 L153.48,189.40 L154.05,188.96 L154.62,188.53 L155.19,188.09 L155.76,187.66 L156.33,187.23 L156.90,186.81 L157.47,186.39 L158.03,185.97 L158.60,185.55 L159.17,185.13 L159.74,184.72 L160.31,184.31 L160.88,183.91 L161.45,183.51 L162.02,183.11 L162.58,182.71 L163.15,182.32 L163.72,181.93 L164.29,181.54 L164.86,181.16 L165.43,180.78 L166.00,180.40 L166.57,180.03 L167.14,179.66 L167.70,179.30 L168.27,178.94 L168.84,178.58 L169.41,178.23 L169.98,177.88 L170.55,177.53 L171.12,177.19 L171.69,176.85 L172.25,176.51 L172.82,176.18 L173.39,175.86 L173.96,175.54 L174.53,175.22 L175.10,174.91 L175.67,174.60 L176.24,174.29 L176.81,173.99 L177.37,173.70 L177.94,173.41 L178.51,173.12 L179.08,172.84 L179.65,172.56 L180.22,172.29 L180.79,172.02 L181.36,171.76 L181.92,171.50 L182.49,171.25 L183.06,170.99 L183.63,170.75 L184.20,170.51 L184.77,170.27 L185.34,170.04 L185.91,169.81 L186.48,169.58 L187.04,169.36 L187.61,169.14 L188.18,168.93 L188.75,168.72 L189.32,168.52 L189.89,168.31 L190.46,168.12 L191.03,167.92 L191.60,167.73 L192.16,167.54 L192.73,167.36 L193.30,167.18 L193.87,167.01 L194.44,166.83 L195.01,166.66 L195.58,166.50 L196.15,166.33 L196.71,166.18 L197.28,166.02 L197.85,165.87 L198.42,165.72 L198.99,165.57 L199.56,165.43 L200.13,165.29 L200.70,165.15 L201.27,165.01 L201.83,164.88 L202.40,164.75 L202.97,164.63 L203.54,164.50 L204.11,164.38 L204.68,164.27 L205.25,164.15 L205.82,164.04 L206.38,163.93 L206.95,163.82 L207.52,163.71 L208.09,163.61 L208.66,163.51 L209.23,163.41 L209.80,163.32 L210.37,163.23 L210.94,163.14 L211.50,163.05 L212.07,162.96 L212.64,162.88 L213.21,162.80 L213.78,162.72 L214.35,162.64 L214.92,162.57 L215.49,162.49 L216.05,162.42 L216.62,162.36 L217.19,162.29 L217.76,162.23 L218.33,162.17 L218.90,162.11 L219.47,162.05 L220.04,161.99 L220.61,161.94 L221.17,161.89 L221.74,161.84 L222.31,161.79 L222.88,161.75 L223.45,161.70 L224.02,161.66 L224.59,161.62 L225.16,161.58 L225.72,161.54 L226.29,161.51 L226.86,161.48 L227.43,161.45 L228.00,161.42 L228.57,161.39 L229.14,161.36 L229.71,161.34 L230.28,161.31 L230.84,161.29 L231.41,161.27 L231.98,161.26 L232.55,161.24 L233.12,161.22 L233.69,161.21 L234.26,161.20 L234.83,161.19 L235.39,161.18 L235.96,161.17 L236.53,161.16 L237.10,161.16 L237.67,161.15 L238.24,161.15 L238.81,161.15 L239.38,161.15 L239.95,161.15 L240.51,161.15 L241.08,161.16 L241.65,161.16 L242.22,161.17 L242.79,161.17 L243.36,161.18 L243.93,161.19 L244.50,161.20 L245.07,161.21 L245.63,161.23 L246.20,161.24 L246.77,161.25 L247.34,161.27 L247.91,161.28 L248.48,161.30 L249.05,161.32 L249.62,161.34 L250.18,161.36 L250.75,161.38 L251.32,161.40 L251.89,161.42 L252.46,161.44 L253.03,161.47 L253.60,161.49 L254.17,161.52 L254.74,161.54 L255.30,161.57 L255.87,161.59 L256.44,161.62 L257.01,161.65 L257.58,161.68 L258.15,161.71 L258.72,161.74 L259.29,161.77 L259.85,161.80 L260.42,161.83 L260.99,161.86 L261.56,161.89 L262.13,161.92 L262.70,161.95 L263.27,161.99 L263.84,162.02 L264.41,162.05 L264.97,162.08 L265.54,162.12 L266.11,162.15 L266.68,162.19 L267.25,162.22 L267.82,162.25 L268.39,162.29 L268.96,162.32 L269.52,162.36 L270.09,162.39 L270.66,162.43 L271.23,162.46 L271.80,162.49" fill="none" stroke="#000000" stroke-width="1.15" stroke-dasharray="1.06,1.06,1.06,3.18"/>
<path d="M59.20,31.58 L59.36,32.93 L59.53,34.28 L59.69,35.63 L59.86,36.98 L60.02,38.32 L60.19,39.67 L60.35,41.02 L60.51,42.37 L60.68,43.72 L60.84,45.07 L61.01,46.41 L61.17,47.76 L61.33,49.11 L61.50,50.46 L61.66,51.81 L61.83,53.16 L61.99,54.51 L62.16,55.85 L62.32,57.20 L62.48,58.55 L62.65,59.90 L62.81,61.25 L62.98,62.60 L63.14,63.94 L63.30,65.29 L63.47,66.64 L63.63,67.99 L63.80,69.34 L63.96,70.69 L64.13,72.04 L64.29,73.38 L64.45,74.73 L64.62,76.08 L64.78,77.43 L64.95,78.78 L65.11,80.13 L65.27,81.47 L65.44,82.82 L65.60,84.17 L65.77,85.52 L65.93,86.87 L66.10,88.22 L66.26,89.57 L66.42,90.91 L66.59,92.26 L66.75,93.61 L66.92,94.96 L67.08,96.31 L67.24,97.66 L67.41,99.00 L67.57,100.35 L67.74,101.70 L67.90,103.05 L68.07,104.40 L68.23,105.75 L68.39,107.10 L68.56,108.44 L68.72,109.79 L68.89,111.14 L69.05,112.49 L69.21,113.84 L69.38,115.19 L69.54,116.53 L69.71,117.88 L69.87,119.23 L70.04,120.58 L70.20,121.93 L70.36,123.28 L70.53,124.62 L70.69,125.97 L70.86,127.32 L71.02,128.67 L71.18,130.02 L71.35,131.37 L71.51,132.73 L71.68,134.13 L71.84,135.47 L72.01,136.65 L72.17,137.73 L72.33,138.74 L72.50,139.71 L72.66,140.64 L72.83,141.56 L72.99,142.50 L73.15,143.46 L73.32,144.47 L73.48,145.55 L73.65,146.76 L73.81,148.02 L73.98,149.28 L74.14,150.48 L74.30,151.54 L74.47,152.41 L74.63,153.17 L74.80,153.87 L74.96,154.52 L75.12,155.13 L75.29,155.71 L75.45,156.29 L75.62,156.88 L75.78,157.48 L75.95,158.10 L76.11,158.72 L76.27,159.33 L76.44,159.93 L76.60,160.50 L76.77,161.04 L76.93,161.53 L77.09,161.99 L77.26,162.43 L77.42,162.86 L77.59,163.28 L77.75,163.68 L77.92,164.06 L78.08,164.41 L78.24,164.73 L78.41,165.02 L78.57,165.27 L78.74,165.50 L78.90,165.71 L79.06,165.91 L79.23,166.11 L79.39,166.29 L79.56,166.47 L79.72,166.64 L79.89,166.79 L80.05,166.93 L80.21,167.07 L80.38,167.19 L80.54,167.30 L80.71,167.40 L80.87,167.49 L81.03,167.57 L81.20,167.65 L81.36,167.73 L81.53,167.80 L81.69,167.88 L81.86,167.95 L82.02,168.02 L82.18,168.09 L82.35,168.16 L82.51,168.22 L82.68,168.28 L82.84,168.34 L83.00,168.39 L83.17,168.44 L83.33,168.49 L83.50,168.53 L83.66,168.56 L83.83,168.60 L83.99,168.62 L84.15,168.65 L84.32,168.66 L84.48,168.67 L84.65,168.68 L84.81,168.68 L84.97,168.68 L85.14,168.67 L85.30,168.67 L85.47,168.66 L85.63,168.66 L85.80,168.66 L85.96,168.66 L86.12,168.68 L86.29,168.69 L86.45,168.72 L86.62,168.74 L86.78,168.77 L86.94,168.79 L87.11,168.82 L87.27,168.86 L87.44,168.90 L87.60,168.94 L87.77,168.98 L87.93,169.03 L88.09,169.08 L88.26,169.13 L88.42,169.18 L88.59,169.24 L88.75,169.30 L88.91,169.37 L89.08,169.43 L89.24,169.50 L89.41,169.57 L89.57,169.65 L89.74,169.73 L89.90,169.81 L90.06,169.89 L90.23,169.97 L90.39,170.06 L90.56,170.15 L90.72,170.24 L90.88,170.34 L91.05,170.44 L91.21,170.54 L91.38,170.64 L91.54,170.74 L91.71,170.85 L91.87,170.96 L92.03,171.07 L92.20,171.18 L92.36,171.30 L92.53,171.42 L92.69,171.54 L92.85,171.66 L93.02,171.78 L93.18,171.91 L93.35,172.04 L93.51,172.17 L93.68,172.30 L93.84,172.44 L94.00,172.58 L94.17,172.71 L94.33,172.85 L94.50,173.00 L94.66,173.14 L94.82,173.28 L94.99,173.43 L95.15,173.58 L95.32,173.73 L95.48,173.88 L95.65,174.03 L95.81,174.19 L95.97,174.35 L96.14,174.51 L96.30,174.67 L96.47,174.83 L96.63,174.99 L96.79,175.16 L96.96,175.33 L97.12,175.49 L97.29,175.66 L97.45,175.83 L97.62,176.00 L97.78,176.18 L97.94,176.35 L98.11,176.53 L98.27,176.70 L98.44,176.88 L98.60,177.06 L98.76,177.24 L98.93,177.42 L99.09,177.61 L99.26,177.79 L99.42,177.98 L99.59,178.16 L99.75,178.35 L99.91,178.53 L100.08,178.72 L100.24,178.91 L100.41,179.10 L100.57,179.29 L100.73,179.49 L100.90,179.68 L101.06,179.87 L101.23,180.07 L101.39,180.26 L101.56,180.46 L101.72,180.65 L102.29,181.34 L102.86,182.03 L103.43,182.73 L104.00,183.42 L104.56,184.13 L105.13,184.83 L105.70,185.54 L106.27,186.24 L106.84,186.95 L107.41,187.65 L107.98,188.34 L108.55,189.03 L109.11,189.72 L109.68,190.40 L110.25,191.07 L110.82,191.73 L111.39,192.38 L111.96,193.02 L112.53,193.65 L113.10,194.27 L113.67,194.88 L114.23,195.47 L114.80,196.05 L115.37,196.62 L115.94,197.18 L116.51,197.71 L117.08,198.23 L117.65,198.74 L118.22,199.23 L118.78,199.70 L119.35,200.15 L119.92,200.58 L120.49,201.00 L121.06,201.39 L121.63,201.76 L122.20,202.11 L122.77,202.44 L123.34,202.74 L123.90,203.02 L124.47,203.29 L125.04,203.52 L125.61,203.72 L126.18,203.91 L126.75,204.07 L127.32,204.18 L127.89,204.27 L128.45,204.35 L129.02,204.40 L129.59,204.40 L130.16,204.37 L130.73,204.32 L131.30,204.25 L131.87,204.16 L132.44,204.02 L133.01,203.85 L133.57,203.66 L134.14,203.45 L134.71,203.21 L135.28,202.95 L135.85,202.67 L136.42,202.37 L136.99,202.05 L137.56,201.71 L138.13,201.36 L138.69,200.99 L139.26,200.61 L139.83,200.21 L140.40,199.80 L140.97,199.38 L141.54,198.95 L142.11,198.52 L142.68,198.07 L143.24,197.62 L143.81,197.16 L144.38,196.70 L144.95,196.24 L145.52,195.77 L146.09,195.31 L146.66,194.84 L147.23,194.38 L147.80,193.91 L148.36,193.45 L148.93,192.99 L149.50,192.54 L150.07,192.08 L150.64,191.63 L151.21,191.18 L151.78,190.73 L152.35,190.29 L152.91,189.84 L153.48,189.40 L154.05,188.96 L154.62,188.53 L155.19,188.09 L155.76,187.66 L156.33,187.23 L156.90,186.81 L157.47,186.39 L158.03,185.97 L158.60,185.55 L159.17,185.13 L159.74,184.72 L160.31,184.31 L160.88,183.91 L161.45,183.51 L162.02,183.11 L162.58,182.71 L163.15,182.32 L163.72,181.93 L164.29,181.54 L164.86,181.16 L165.43,180.78 L166.00,180.40 L166.57,180.03 L167.14,179.66 L167.70,179.30 L168.27,178.94 L168.84,178.58 L169.41,178.23 L169.98,177.88 L170.55,177.53 L171.12,177.19 L171.69,176.85 L172.25,176.51 L172.82,176.18 L173.39,175.86 L173.96,175.54 L174.53,175.22 L175.10,174.91 L175.67,174.60 L176.24,174.29 L176.81,173.99 L177.37,173.70 L177.94,173.41 L178.51,173.12 L179.08,172.84 L179.65,172.56 L180.22,172.29 L180.79,172.02 L181.36,171.76 L181.92,171.50 L182.49,171.25 L183.06,170.99 L183.63,170.75 L184.20,170.51 L184.77,170.27 L185.34,170.04 L185.91,169.81 L186.48,169.58 L187.04,169.36 L187.61,169.14 L188.18,168.93 L188.75,168.72 L189.32,168.52 L189.89,168.31 L190.46,168.12 L191.03,167.92 L191.60,167.73 L192.16,167.54 L192.73,167.36 L193.30,167.18 L193.87,167.01 L194.44,166.83 L195.01,166.66 L195.58,166.50 L196.15,166.33 L196.71,166.18 L197.28,166.02 L197.85,165.87 L198.42,165.72 L198.99,165.57 L199.56,165.43 L200.13,165.29 L200.70,165.15 L201.27,165.01 L201.83,164.88 L202.40,164.75 L202.97,164.63 L203.54,164.50 L204.11,164.38 L204.68,164.27 L205.25,164.15 L205.82,164.04 L206.38,163.93 L206.95,163.82 L207.52,163.71 L208.09,163.61 L208.66,163.51 L209.23,163.41 L209.80,163.32 L210.37,163.23 L210.94,163.14 L211.50,163.05 L212.07,162.96 L212.64,162.88 L213.21,162.80 L213.78,162.72 L214.35,162.64 L214.92,162.57 L215.49,162.49 L216.05,162.42 L216.62,162.36 L217.19,162.29 L217.76,162.23 L218.33,162.17 L218.90,162.11 L219.47,162.05 L220.04,161.99 L220.61,161.94 L221.17,161.89 L221.74,161.84 L222.31,161.79 L222.88,161.75 L223.45,161.70 L224.02,161.66 L224.59,161.62 L225.16,161.58 L225.72,161.54 L226.29,161.51 L226.86,161.48 L227.43,161.45 L228.00,161.42 L228.57,161.39 L229.14,161.36 L229.71,161.34 L230.28,161.31 L230.84,161.29 L231.41,161.27 L231.98,161.26 L232.55,161.24 L233.12,161.22 L233.69,161.21 L234.26,161.20 L234.83,161.19 L235.39,161.18 L235.96,161.17 L236.53,161.16 L237.10,161.16 L237.67,161.15 L238.24,161.15 L238.81,161.15 L239.38,161.15 L239.95,161.15 L240.51,161.15 L241.08,161.16 L241.65,161.16 L242.22,161.17 L242.79,161.17 L243.36,161.18 L243.93,161.19 L244.50,161.20 L245.07,161.21 L245.63,161.23 L246.20,161.24 L246.77,161.25 L247.34,161.27 L247.91,161.28 L248.48,161.30 L249.05,161.32 L249.62,161.34 L250.18,161.36 L250.75,161.38 L251.32,161.40 L251.89,161.42 L252.46,161.44 L253.03,161.47 L253.60,161.49 L254.17,161.52 L254.74,161.54 L255.30,161.57 L255.87,161.59 L256.44,161.62 L257.01,161.65 L257.58,161.68 L258.15,161.71 L258.72,161.74 L259.29,161.77 L259.85,161.80 L260.42,161.83 L260.99,161.86 L261.56,161.89 L262.13,161.92 L262.70,161.95 L263.27,161.99 L263.84,162.02 L264.41,162.05 L264.97,162.08 L265.54,162.12 L266.11,162.15 L266.68,162.19 L267.25,162.22 L267.82,162.25 L268.39,162.29 L268.96,162.32 L269.52,162.36 L270.09,162.39 L270.66,162.43 L271.23,162.46 L271.80,162.49" fill="none" stroke="#ff4d00" stroke-width="1.15" stroke-dasharray="0.53,1.06,3.18,1.06,0.53,1.06"/>
</g>
<g opacity="0.999">
<text x="53.6" y="235.60" text-anchor="end" font-family="Liberation Serif, serif" font-size="9.2" fill="#000" stroke="#000" stroke-width="0.18" text-rendering="geometricPrecision">0</text>
<text x="53.6" y="215.45" text-anchor="end" font-family="Liberation Serif, serif" font-size="9.2" fill="#000" stroke="#000" stroke-width="0.18" text-rendering="geometricPrecision">0.5</text>
<text x="53.6" y="195.31" text-anchor="end" font-family="Liberation Serif, serif" font-size="9.2" fill="#000" stroke="#000" stroke-width="0.18" text-rendering="geometricPrecision">1</text>
<text x="53.6" y="175.16" text-anchor="end" font-family="Liberation Serif, serif" font-size="9.2" fill="#000" stroke="#000" stroke-width="0.18" text-rendering="geometricPrecision">1.5</text>
<text x="53.6" y="155.02" text-anchor="end" font-family="Liberation Serif, serif" font-size="9.2" fill="#000" stroke="#000" stroke-width="0.18" text-rendering="geometricPrecision">2</text>
<text x="53.6" y="134.87" text-anchor="end" font-family="Liberation Serif, serif" font-size="9.2" fill="#000" stroke="#000" stroke-width="0.18" text-rendering="geometricPrecision">2.5</text>
<text x="53.6" y="114.73" text-anchor="end" font-family="Liberation Serif, serif" font-size="9.2" fill="#000" stroke="#000" stroke-width="0.18" text-rendering="geometricPrecision">3</text>
<text x="53.6" y="94.58" text-anchor="end" font-family="Liberation Serif, serif" font-size="9.2" fill="#000" stroke="#000" stroke-width="0.18" text-rendering="geometricPrecision">3.5</text>
<text x="53.6" y="74.44" text-anchor="end" font-family="Liberation Serif, serif" font-size="9.2" fill="#000" stroke="#000" stroke-width="0.18" text-rendering="geometricPrecision">4</text>
<text x="53.6" y="54.29" text-anchor="end" font-family="Liberation Serif, serif" font-size="9.2" fill="#000" stroke="#000" stroke-width="0.18" text-rendering="geometricPrecision">4.5</text>
<text x="53.6" y="34.15" text-anchor="end" font-family="Liberation Serif, serif" font-size="9.2" fill="#000" stroke="#000" stroke-width="0.18" text-rendering="geometricPrecision">5</text>
<text x="53.6" y="14.00" text-anchor="end" font-family="Liberation Serif, serif" font-size="9.2" fill="#000" stroke="#000" stroke-width="0.18" text-rendering="geometricPrecision">5.5</text>
<text x="60.30" y="245.6" text-anchor="middle" font-family="Liberation Serif, serif" font-size="9.2" fill="#000" stroke="#000" stroke-width="0.18" text-rendering="geometricPrecision">0</text>
<text x="102.79" y="245.6" text-anchor="middle" font-family="Liberation Serif, serif" font-size="9.2" fill="#000" stroke="#000" stroke-width="0.18" text-rendering="geometricPrecision">20</text>
<text x="145.28" y="245.6" text-anchor="middle" font-family="Liberation Serif, serif" font-size="9.2" fill="#000" stroke="#000" stroke-width="0.18" text-rendering="geometricPrecision">40</text>
<text x="187.77" y="245.6" text-anchor="middle" font-family="Liberation Serif, serif" font-size="9.2" fill="#000" stroke="#000" stroke-width="0.18" text-rendering="geometricPrecision">60</text>
<text x="230.26" y="245.6" text-anchor="middle" font-family="Liberation Serif, serif" font-size="9.2" fill="#000" stroke="#000" stroke-width="0.18" text-rendering="geometricPrecision">80</text>
<text x="272.75" y="245.6" text-anchor="middle" font-family="Liberation Serif, serif" font-size="9.2" fill="#000" stroke="#000" stroke-width="0.18" text-rendering="geometricPrecision">100</text>
<text x="164" y="259.3" text-anchor="middle" font-family="Liberation Serif, serif" font-size="9.2" fill="#000" stroke="#000" stroke-width="0.18" text-rendering="geometricPrecision">x (m)</text>
<text transform="translate(22.7,122.3) rotate(-90)" text-anchor="middle" font-family="Liberation Serif, serif" font-size="9.2" fill="#000" stroke="#000" stroke-width="0.18" text-rendering="geometricPrecision">Piezometric line (m)</text>
<text x="331.6" y="19.00" text-anchor="end" font-family="Liberation Serif, serif" font-size="9.2" fill="#000" stroke="#000" stroke-width="0.18" text-rendering="geometricPrecision">t = 28.172</text>
<path d="M337.7,15.80 H364" fill="none" stroke="#ffff00" stroke-width="1.15" stroke-dasharray="1.59,1.59,0.53,1.59"/>
<text x="331.6" y="28.37" text-anchor="end" font-family="Liberation Serif, serif" font-size="9.2" fill="#000" stroke="#000" stroke-width="0.18" text-rendering="geometricPrecision">t = 28.227</text>
<path d="M337.7,25.17 H364" fill="none" stroke="#000000" stroke-width="1.15" stroke-dasharray="1.06,1.06,1.06,3.18"/>
<text x="331.6" y="37.74" text-anchor="end" font-family="Liberation Serif, serif" font-size="9.2" fill="#000" stroke="#000" stroke-width="0.18" text-rendering="geometricPrecision">t = 28.283</text>
<path d="M337.7,34.54 H364" fill="none" stroke="#ff4d00" stroke-width="1.15" stroke-dasharray="0.53,1.06,3.18,1.06,0.53,1.06"/>
<text x="331.6" y="47.11" text-anchor="end" font-family="Liberation Serif, serif" font-size="9.2" fill="#000" stroke="#000" stroke-width="0.18" text-rendering="geometricPrecision">t = 28.339</text>
<path d="M337.7,43.91 H364" fill="none" stroke="#808080" stroke-width="1.15" stroke-dasharray="1.06,1.06,1.06,1.06,1.06,1.06,1.06,2.12"/>
<text x="331.6" y="56.48" text-anchor="end" font-family="Liberation Serif, serif" font-size="9.2" fill="#000" stroke="#000" stroke-width="0.18" text-rendering="geometricPrecision">t = 28.395</text>
<path d="M337.7,53.28 H364" fill="none" stroke="#ff0000" stroke-width="1.15"/>
<text x="331.6" y="65.85" text-anchor="end" font-family="Liberation Serif, serif" font-size="9.2" fill="#000" stroke="#000" stroke-width="0.18" text-rendering="geometricPrecision">t = 28.452</text>
<path d="M337.7,62.65 H364" fill="none" stroke="#00ff00" stroke-width="1.15" stroke-dasharray="2.12,1.06"/>
<text x="331.6" y="75.22" text-anchor="end" font-family="Liberation Serif, serif" font-size="9.2" fill="#000" stroke="#000" stroke-width="0.18" text-rendering="geometricPrecision">t = 28.510</text>
<path d="M337.7,72.02 H364" fill="none" stroke="#0000ff" stroke-width="1.15" stroke-dasharray="1.06,1.59"/>
<text x="331.6" y="84.59" text-anchor="end" font-family="Liberation Serif, serif" font-size="9.2" fill="#000" stroke="#000" stroke-width="0.18" text-rendering="geometricPrecision">t = 28.568</text>
<path d="M337.7,81.39 H364" fill="none" stroke="#ff00ff" stroke-width="1.15" stroke-dasharray="0.53,0.80"/>
<text x="331.6" y="93.96" text-anchor="end" font-family="Liberation Serif, serif" font-size="9.2" fill="#000" stroke="#000" stroke-width="0.18" text-rendering="geometricPrecision">t = 28.626</text>
<path d="M337.7,90.76 H364" fill="none" stroke="#00ffff" stroke-width="1.15" stroke-dasharray="3.18,1.06,0.53,1.06"/>
<text x="331.6" y="103.33" text-anchor="end" font-family="Liberation Serif, serif" font-size="9.2" fill="#000" stroke="#000" stroke-width="0.18" text-rendering="geometricPrecision">t = 28.685</text>
<path d="M337.7,100.13 H364" fill="none" stroke="#ffff00" stroke-width="1.15" stroke-dasharray="1.59,1.59,0.53,1.59"/>
<text x="331.6" y="112.70" text-anchor="end" font-family="Liberation Serif, serif" font-size="9.2" fill="#000" stroke="#000" stroke-width="0.18" text-rendering="geometricPrecision">t = 28.745</text>
<path d="M337.7,109.50 H364" fill="none" stroke="#000000" stroke-width="1.15" stroke-dasharray="1.06,1.06,1.06,3.18"/>
</g>
</svg>
</body></html>
